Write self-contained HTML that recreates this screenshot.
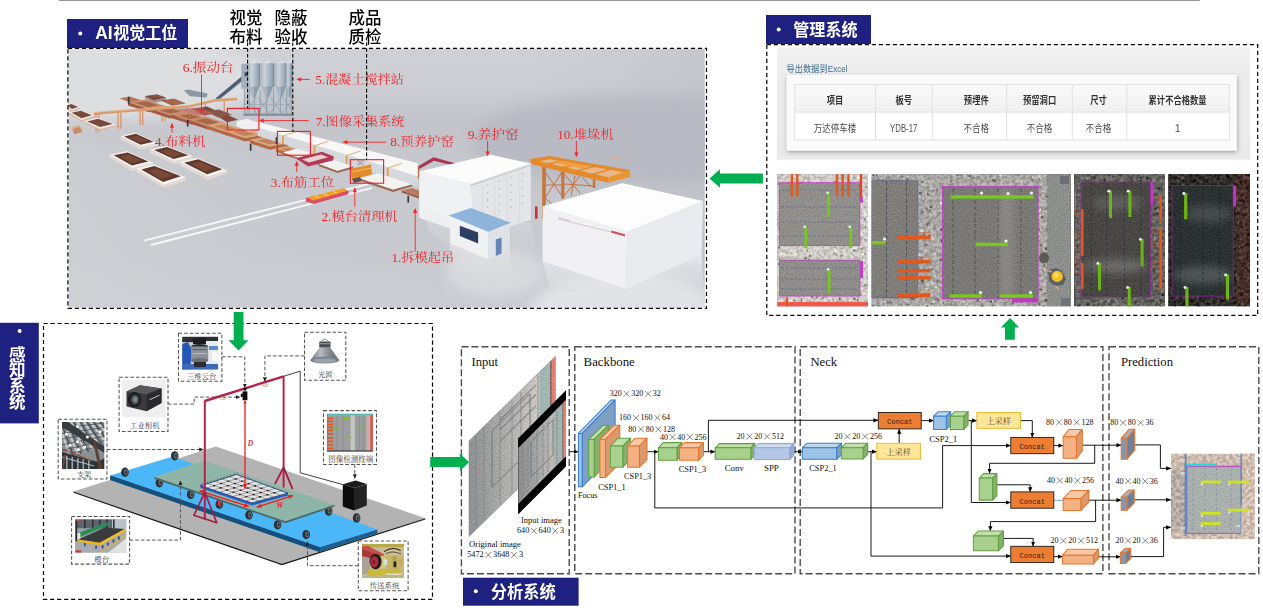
<!DOCTYPE html>
<html lang="zh"><head><meta charset="utf-8"><title>AI visual inspection system overview</title>
<style>
html,body{margin:0;padding:0;background:#fff;}
body{width:1263px;height:611px;overflow:hidden;font-family:"Liberation Sans",sans-serif;}
svg{display:block;}
.ser{font-family:"Liberation Serif",serif;}
.san{font-family:"Liberation Sans",sans-serif;}
.mono{font-family:"Liberation Mono",monospace;}
.cser{font-family:"Liberation Serif","Noto Serif CJK SC",serif;}
.csan{font-family:"Liberation Sans","Noto Sans CJK SC",sans-serif;}
</style></head><body>
<svg width="1263" height="611" viewBox="0 0 1263 611">
<defs>
<clipPath id="cf"><rect x="68.4" y="48.8" width="636.4" height="259.0"/></clipPath>
<linearGradient id="fbg" x1="0" y1="0" x2="0" y2="1"><stop offset="0" stop-color="#cfd0d5"/><stop offset="0.14" stop-color="#cdced3"/><stop offset="0.28" stop-color="#c3c4cb"/><stop offset="0.45" stop-color="#c6c8cd"/><stop offset="0.8" stop-color="#c9cacf"/><stop offset="1" stop-color="#cccdd2"/></linearGradient>
<linearGradient id="fbg2" x1="0" y1="0" x2="1" y2="0"><stop offset="0" stop-color="#e4e5e7" stop-opacity="0.18"/><stop offset="0.3" stop-color="#dcdde0" stop-opacity="0.05"/><stop offset="0.7" stop-color="#c8c9cf" stop-opacity="0.0"/><stop offset="1" stop-color="#bbbcc5" stop-opacity="0.45"/></linearGradient>
<linearGradient id="refl" x1="0" y1="0" x2="0" y2="1"><stop offset="0" stop-color="#eceef0" stop-opacity="0.85"/><stop offset="1" stop-color="#dfe0e4" stop-opacity="0"/></linearGradient>
<linearGradient id="silo" x1="0" y1="0" x2="1" y2="0"><stop offset="0" stop-color="#aab6c1"/><stop offset="0.3" stop-color="#c9d3dc"/><stop offset="0.65" stop-color="#abb8c4"/><stop offset="1" stop-color="#8b99a7"/></linearGradient>
<filter id="fblur" x="-2%" y="-2%" width="104%" height="104%"><feGaussianBlur stdDeviation="0.55"/></filter>
<filter id="fblur2" x="-40%" y="-40%" width="180%" height="180%"><feGaussianBlur stdDeviation="7"/></filter>
</defs>
<g clip-path="url(#cf)">
<rect x="68.40" y="48.80" width="636.40" height="259.00" fill="url(#fbg)" />
<rect x="68.40" y="48.80" width="636.40" height="259.00" fill="url(#fbg2)" />
<ellipse cx="625" cy="312" rx="95" ry="40" fill="#e6e7ea" opacity="0.85" filter="url(#fblur2)"/>
<ellipse cx="495" cy="272" rx="50" ry="24" fill="#dfe0e3" opacity="0.7" filter="url(#fblur2)"/>
<ellipse cx="120" cy="78" rx="150" ry="42" fill="#dedfe1" opacity="0.95" filter="url(#fblur2)"/>
<ellipse cx="640" cy="140" rx="170" ry="45" fill="#b7b8c2" opacity="0.85" filter="url(#fblur2)"/>
<g filter="url(#fblur)">
<polyline points="144.0,240.6 305.0,200.2 368.0,184.2" fill="none" stroke="#f6f7f8" stroke-width="1.9" />
<polyline points="151.0,245.0 312.0,203.6 372.0,187.8" fill="none" stroke="#f6f7f8" stroke-width="1.9" />
<polygon points="183.8,90.6 188.0,89.6 207.6,93.6 206.6,97.4 190.0,96.2" fill="#8b98a6" />
<polygon points="215.4,98.4 241.6,76.6 243.4,79.4 218.6,100.2" fill="#4b5b70" />
<polyline points="217.6,100.4 243.4,80.6" fill="none" stroke="#8fa0b4" stroke-width="0.8" />
<rect x="241.30" y="63.80" width="7.20" height="25.00" fill="#a3afba" />
<rect x="244.60" y="72.30" width="2.90" height="4.00" fill="#3e4854" />
<rect x="243.50" y="88.50" width="48.60" height="26.40" fill="#b4bcc5" opacity="0.38"/>
<polyline points="244.6,89.0 244.6,115.4" fill="none" stroke="#8794a2" stroke-width="0.8" />
<polyline points="249.2,89.0 249.2,115.4" fill="none" stroke="#8794a2" stroke-width="0.8" />
<polyline points="254.4,89.0 254.4,115.4" fill="none" stroke="#8794a2" stroke-width="0.8" />
<polyline points="260.2,89.0 260.2,115.4" fill="none" stroke="#8794a2" stroke-width="0.8" />
<polyline points="266.6,89.0 266.6,115.4" fill="none" stroke="#8794a2" stroke-width="0.8" />
<polyline points="273.6,89.0 273.6,115.4" fill="none" stroke="#8794a2" stroke-width="0.8" />
<polyline points="280.4,89.0 280.4,115.4" fill="none" stroke="#8794a2" stroke-width="0.8" />
<polyline points="286.6,89.0 286.6,115.4" fill="none" stroke="#8794a2" stroke-width="0.8" />
<polyline points="291.4,89.0 291.4,115.4" fill="none" stroke="#8794a2" stroke-width="0.8" />
<polyline points="246.0,97.0 256.6,113.0" fill="none" stroke="#8d9aa8" stroke-width="0.7" />
<polyline points="256.6,97.0 246.0,113.0" fill="none" stroke="#8d9aa8" stroke-width="0.7" />
<polyline points="258.2,97.0 268.8,113.0" fill="none" stroke="#8d9aa8" stroke-width="0.7" />
<polyline points="268.8,97.0 258.2,113.0" fill="none" stroke="#8d9aa8" stroke-width="0.7" />
<polyline points="270.4,97.0 281.0,113.0" fill="none" stroke="#8d9aa8" stroke-width="0.7" />
<polyline points="281.0,97.0 270.4,113.0" fill="none" stroke="#8d9aa8" stroke-width="0.7" />
<polyline points="282.6,97.0 293.2,113.0" fill="none" stroke="#8d9aa8" stroke-width="0.7" />
<polyline points="293.2,97.0 282.6,113.0" fill="none" stroke="#8d9aa8" stroke-width="0.7" />
<polyline points="243.5,104.6 292.0,104.6" fill="none" stroke="#95a1ae" stroke-width="0.6" />
<rect x="243.50" y="113.60" width="48.60" height="2.20" fill="#828e9b" />
<polygon points="248.2,86.0 259.6,86.0 255.4,97.2 252.4,97.2" fill="#aab7c3" />
<polygon points="253.9,86.0 259.6,86.0 255.4,97.2 253.9,97.2" fill="#8f9eac" />
<rect x="248.20" y="63.20" width="11.40" height="23.40" fill="url(#silo)" />
<rect x="259.10" y="63.60" width="1.30" height="23.00" fill="#7b8896" />
<polyline points="251.5,62.6 256.5,62.6" fill="none" stroke="#dfe4e9" stroke-width="1.0" />
<polyline points="254.9,59.8 254.9,62.6" fill="none" stroke="#e9edf0" stroke-width="0.8" />
<polygon points="260.8,86.0 273.6,86.0 268.7,97.2 265.7,97.2" fill="#aab7c3" />
<polygon points="267.2,86.0 273.6,86.0 268.7,97.2 267.2,97.2" fill="#8f9eac" />
<rect x="260.80" y="63.20" width="12.80" height="23.40" fill="url(#silo)" />
<rect x="273.10" y="63.60" width="1.30" height="23.00" fill="#7b8896" />
<polyline points="264.8,62.6 269.8,62.6" fill="none" stroke="#dfe4e9" stroke-width="1.0" />
<polyline points="268.2,59.8 268.2,62.6" fill="none" stroke="#e9edf0" stroke-width="0.8" />
<polygon points="275.0,86.0 286.4,86.0 282.2,97.2 279.2,97.2" fill="#aab7c3" />
<polygon points="280.7,86.0 286.4,86.0 282.2,97.2 280.7,97.2" fill="#8f9eac" />
<rect x="275.00" y="63.20" width="11.40" height="23.40" fill="url(#silo)" />
<rect x="285.90" y="63.60" width="1.30" height="23.00" fill="#7b8896" />
<polyline points="278.3,62.6 283.3,62.6" fill="none" stroke="#dfe4e9" stroke-width="1.0" />
<polyline points="281.7,59.8 281.7,62.6" fill="none" stroke="#e9edf0" stroke-width="0.8" />
<polygon points="286.2,86.0 291.8,86.0 290.5,97.2 287.5,97.2" fill="#aab7c3" />
<polygon points="289.0,86.0 291.8,86.0 290.5,97.2 289.0,97.2" fill="#8f9eac" />
<rect x="286.20" y="63.20" width="5.60" height="23.40" fill="url(#silo)" />
<rect x="291.30" y="63.60" width="1.30" height="23.00" fill="#7b8896" />
<polyline points="286.6,62.6 291.6,62.6" fill="none" stroke="#dfe4e9" stroke-width="1.0" />
<polyline points="290.0,59.8 290.0,62.6" fill="none" stroke="#e9edf0" stroke-width="0.8" />
<rect x="95.40" y="114.60" width="1.30" height="17.50" fill="#d39468" />
<rect x="98.20" y="114.40" width="1.30" height="17.50" fill="#d39468" />
<rect x="117.50" y="112.80" width="1.30" height="16.00" fill="#d39468" />
<rect x="120.20" y="112.50" width="1.30" height="16.00" fill="#d39468" />
<rect x="139.50" y="110.60" width="1.30" height="14.50" fill="#d39468" />
<rect x="142.00" y="110.40" width="1.30" height="14.50" fill="#d39468" />
<rect x="161.60" y="108.60" width="1.30" height="13.00" fill="#d39468" />
<rect x="164.40" y="108.20" width="1.30" height="13.00" fill="#d39468" />
<rect x="204.60" y="103.00" width="1.30" height="13.60" fill="#d39468" />
<rect x="223.60" y="100.60" width="1.30" height="14.00" fill="#d39468" />
<polygon points="145.0,96.0 157.0,94.2 166.0,97.6 153.4,100.2" fill="#8a5647" />
<polygon points="119.4,98.2 130.0,96.4 142.0,100.6 131.0,103.0" fill="#b87858" />
<polygon points="192.0,108.8 207.0,106.6 220.0,112.6 204.0,115.6" fill="#7d4c42" />
<polygon points="218.0,116.6 228.0,115.0 238.0,119.8 227.0,122.2" fill="#7d4c42" />
<polygon points="161.0,100.6 174.0,98.6 186.0,103.4 172.0,105.8" fill="#a5684e" />
<polygon points="206.0,111.6 219.0,109.4 232.0,114.8 218.0,117.6" fill="#8a5647" />
<polygon points="145.0,96.0 166.0,97.6 166.0,100.4 153.4,103.0 145.0,98.6" fill="#6d4035" opacity="0.5"/>
<polygon points="170.0,109.5 200.0,107.5 214.0,114.0 186.0,117.0" fill="#b8605a" opacity="0.75"/>
<polygon points="128.0,102.0 148.0,108.6 166.0,106.2 166.0,109.6 148.0,112.0 128.0,105.4" fill="#a45a44" />
<polygon points="128.0,102.0 146.0,99.6 166.0,106.2 148.0,108.6" fill="#c98f6c" />
<polygon points="135.2,102.8 146.4,101.3 158.8,105.4 147.6,106.9" fill="#a8664a" />
<polygon points="150.0,108.6 170.0,115.2 188.0,112.6 188.0,116.0 170.0,118.6 150.0,112.0" fill="#a45a44" />
<polygon points="150.0,108.6 168.0,106.0 188.0,112.6 170.0,115.2" fill="#c98f6c" />
<polygon points="157.2,109.4 168.4,107.7 180.8,111.8 169.6,113.5" fill="#a8664a" />
<polygon points="172.0,114.8 192.0,121.4 209.0,118.8 209.0,122.2 192.0,124.8 172.0,118.2" fill="#a45a44" />
<polygon points="172.0,114.8 189.0,112.2 209.0,118.8 192.0,121.4" fill="#c98f6c" />
<polygon points="179.0,115.6 189.6,113.9 202.0,118.0 191.4,119.7" fill="#a8664a" />
<polygon points="188.0,119.6 208.0,126.2 226.0,123.2 226.0,126.6 208.0,129.6 188.0,123.0" fill="#a45a44" />
<polygon points="188.0,119.6 206.0,116.6 226.0,123.2 208.0,126.2" fill="#c98f6c" />
<polygon points="195.2,120.3 206.4,118.4 218.8,122.5 207.6,124.4" fill="#a8664a" />
<polygon points="206.6,125.4 226.6,132.0 242.0,129.2 242.0,132.6 226.6,135.4 206.6,128.8" fill="#b1694a" />
<polygon points="206.6,125.4 222.0,122.6 242.0,129.2 226.6,132.0" fill="#dba677" />
<polygon points="213.3,126.1 222.9,124.4 235.3,128.5 225.7,130.2" fill="#c08560" />
<polygon points="225.0,131.4 245.0,138.0 263.0,134.8 263.0,138.2 245.0,141.4 225.0,134.8" fill="#b1694a" />
<polygon points="225.0,131.4 243.0,128.2 263.0,134.8 245.0,138.0" fill="#dba677" />
<polygon points="232.2,132.0 243.4,130.1 255.8,134.2 244.6,136.1" fill="#c08560" />
<polygon points="249.8,139.8 269.8,146.4 288.0,143.0 288.0,146.4 269.8,149.8 249.8,143.2" fill="#b1694a" />
<polygon points="249.8,139.8 268.0,136.4 288.0,143.0 269.8,146.4" fill="#dba677" />
<polygon points="257.1,140.4 268.3,138.3 280.7,142.4 269.5,144.5" fill="#c08560" />
<polygon points="276.0,148.4 291.0,153.3 302.0,150.9 302.0,154.3 291.0,156.8 276.0,151.8" fill="#b1694a" />
<polygon points="276.0,148.4 287.0,146.0 302.0,150.9 291.0,153.3" fill="#dba677" />
<polygon points="280.9,148.9 287.8,147.4 297.1,150.5 290.2,152.0" fill="#c08560" />
<polygon points="94.0,112.4 110.0,111.0 189.2,105.2 214.5,99.2 237.0,97.8 237.0,100.2 214.5,101.8 189.2,107.8 110.0,113.6 94.0,115.2" fill="#d99a6e" />
<polyline points="94.0,112.6 110.0,111.2 189.2,105.4 214.5,99.4 237.0,98.0" fill="none" stroke="#e8b48c" stroke-width="0.8" />
<polygon points="66.0,105.4 72.0,110.4 79.6,107.4 79.6,109.2 72.0,112.2 66.0,107.2" fill="#d9b9a3" />
<polygon points="66.0,105.4 71.0,103.4 79.6,107.4 72.0,110.4" fill="#efe9e4" />
<polygon points="67.4,105.4 71.3,103.9 78.0,106.9 72.0,109.1" fill="#7a4a3e" />
<polygon points="69.0,112.6 81.4,120.0 94.6,115.8 94.6,117.6 81.4,121.8 69.0,114.4" fill="#d9b9a3" />
<polygon points="69.0,112.6 80.7,109.8 94.6,115.8 81.4,120.0" fill="#efe9e4" />
<polygon points="71.7,112.8 80.9,110.7 91.7,115.2 81.4,118.3" fill="#7a4a3e" />
<polygon points="83.7,121.3 100.4,128.9 116.3,124.8 116.3,126.6 100.4,130.7 83.7,123.1" fill="#d9b9a3" />
<polygon points="83.7,121.3 97.7,117.6 116.3,124.8 100.4,128.9" fill="#efe9e4" />
<polygon points="87.2,121.5 98.1,118.7 112.6,124.1 100.2,127.1" fill="#7a4a3e" />
<polygon points="72.0,127.6 79.6,125.6 82.4,131.8 74.4,134.2" fill="#c98a66" />
<polygon points="72.0,127.6 79.6,125.6 80.2,127.2 72.6,129.2" fill="#dba884" />
<polygon points="120.5,136.3 141.1,146.6 157.3,142.9 157.3,146.1 141.1,149.8 120.5,139.5" fill="#e2d9d2" />
<polygon points="120.5,136.3 135.2,132.6 157.3,142.9 141.1,146.6" fill="#f5f2ef" />
<polygon points="124.1,136.6 135.9,133.7 153.5,141.8 140.6,144.7" fill="#60392e" />
<polygon points="129.5,137.5 136.9,135.7 147.9,140.8 139.8,142.7" fill="#7a4a35" />
<polygon points="149.9,149.6 174.2,161.3 192.7,156.2 192.7,159.4 174.2,164.5 149.9,152.8" fill="#e2d9d2" />
<polygon points="149.9,149.6 166.1,145.9 192.7,156.2 174.2,161.3" fill="#f5f2ef" />
<polygon points="154.1,150.0 167.0,147.1 188.3,155.2 173.5,159.1" fill="#60392e" />
<polygon points="160.3,151.0 168.4,149.2 181.7,154.3 172.5,156.9" fill="#7a4a35" />
<polygon points="109.4,154.7 132.3,168.0 152.9,162.8 152.9,166.0 132.3,171.2 109.4,157.9" fill="#e2d9d2" />
<polygon points="109.4,154.7 127.1,151.0 152.9,162.8 132.3,168.0" fill="#f5f2ef" />
<polygon points="113.6,155.3 127.8,152.4 148.4,161.6 131.9,165.6" fill="#60392e" />
<polygon points="119.9,156.5 128.8,154.7 141.7,160.6 131.4,163.2" fill="#7a4a35" />
<polygon points="179.4,162.1 208.1,176.8 227.0,170.4 227.0,173.6 208.1,180.0 179.4,165.3" fill="#e2d9d2" />
<polygon points="179.4,162.1 197.1,157.7 227.0,170.4 208.1,176.8" fill="#f5f2ef" />
<polygon points="184.1,162.7 198.3,159.3 222.2,169.2 207.1,174.2" fill="#60392e" />
<polygon points="191.2,164.0 200.0,161.8 214.9,168.2 205.5,171.4" fill="#7a4a35" />
<polygon points="136.7,168.7 163.9,184.9 186.0,177.5 186.0,180.7 163.9,188.1 136.7,171.9" fill="#e2d9d2" />
<polygon points="136.7,168.7 152.9,164.3 186.0,177.5 163.9,184.9" fill="#f5f2ef" />
<polygon points="141.3,169.4 154.3,166.0 180.8,176.3 163.1,182.1" fill="#60392e" />
<polygon points="148.3,170.9 156.4,168.7 172.9,175.3 161.9,179.0" fill="#7a4a35" />
<polygon points="258.0,127.6 418.0,176.4 418.0,186.4 258.0,136.0" fill="#d5d8dc" />
<polygon points="258.0,122.0 418.0,163.2 418.0,176.4 258.0,127.6" fill="#f7f7f7" />
<polygon points="236.6,121.6 247.0,118.8 259.4,123.0 259.4,128.6 248.0,131.4 236.6,126.0" fill="#f1f0ee" />
<rect x="282.00" y="135.60" width="1.90" height="8.80" fill="#e0a24e" />
<polyline points="283.6,135.8 297.0,131.4" fill="none" stroke="#e6b068" stroke-width="1.0" />
<rect x="313.50" y="145.40" width="1.90" height="8.80" fill="#e0a24e" />
<polyline points="315.1,145.6 328.5,141.2" fill="none" stroke="#e6b068" stroke-width="1.0" />
<rect x="345.70" y="155.20" width="1.90" height="8.80" fill="#e0a24e" />
<polyline points="347.3,155.4 360.7,151.0" fill="none" stroke="#e6b068" stroke-width="1.0" />
<rect x="386.90" y="167.60" width="1.90" height="8.80" fill="#e0a24e" />
<polyline points="388.5,167.8 401.9,163.4" fill="none" stroke="#e6b068" stroke-width="1.0" />
<polygon points="283.0,152.4 298.0,157.6 313.0,153.6 313.0,155.6 298.0,159.6 283.0,154.4" fill="#b1694a" />
<polygon points="283.0,152.4 297.0,148.6 313.0,153.6 298.0,157.6" fill="#f4f3f1" />
<polygon points="318.6,163.8 337.4,170.8 353.0,166.2 353.0,168.4 337.4,173.0 318.6,166.0" fill="#9c6a58" />
<polygon points="318.6,163.8 333.6,159.6 353.0,166.2 337.4,170.8" fill="#f3f2f0" />
<polygon points="359.6,178.2 393.0,189.6 412.0,184.2 412.0,186.6 393.0,192.0 359.6,180.6" fill="#9c6a58" />
<polygon points="359.6,178.2 378.0,173.2 412.0,184.2 393.0,189.6" fill="#f3f2f0" />
<polygon points="296.0,158.6 322.0,151.8 334.0,156.6 333.0,160.6 308.0,166.6" fill="#b23a58" />
<polygon points="302.0,159.4 321.0,154.4 328.0,157.2 309.0,162.6" fill="#e7d3cf" />
<polygon points="351.0,168.8 371.0,164.6 372.0,174.6 352.0,179.4" fill="#e58b2a" />
<polyline points="351.4,172.2 371.6,167.8" fill="none" stroke="#f3c06a" stroke-width="1" />
<rect x="356.60" y="159.80" width="8.60" height="5.60" fill="#c9cdd3" />
<polyline points="358.0,160.0 363.0,165.4" fill="none" stroke="#6b7078" stroke-width="0.6" />
<polyline points="363.0,160.0 358.0,165.4" fill="none" stroke="#6b7078" stroke-width="0.6" />
<polygon points="352.0,179.0 360.0,177.0 362.0,181.0 354.0,183.0" fill="#59545a" />
<polygon points="305.4,198.2 343.6,188.6 349.0,191.4 348.0,194.4 314.0,204.0 306.0,201.6" fill="#d9506a" />
<polygon points="307.6,197.4 343.0,188.4 347.4,190.8 313.4,200.6" fill="#f3a21f" />
<polyline points="314.7,195.6 319.7,198.2" fill="none" stroke="#f7c44e" stroke-width="1.5" />
<polyline points="323.5,193.3 328.5,195.9" fill="none" stroke="#f7c44e" stroke-width="1.5" />
<polyline points="332.4,191.1 337.4,193.7" fill="none" stroke="#f7c44e" stroke-width="1.5" />
<polygon points="401.6,190.6 419.0,196.4 419.0,190.4 419.0,192.4 419.0,198.4 401.6,192.6" fill="#8e5a46" />
<polygon points="401.6,190.6 412.0,188.0 419.0,190.4 419.0,196.4" fill="#b77a5c" />
<polygon points="417.6,166.4 433.6,157.2 456.0,163.4 455.0,166.0 434.0,160.8 419.4,169.0" fill="#a93652" />
<rect x="417.80" y="166.60" width="1.50" height="12.00" fill="#c06a4a" />
<rect x="127.80" y="96.80" width="1.70" height="6.80" fill="#33343a" />
<rect x="186.80" y="119.80" width="1.70" height="6.80" fill="#33343a" />
<rect x="249.80" y="144.00" width="1.70" height="6.80" fill="#33343a" />
<rect x="407.40" y="195.80" width="1.70" height="6.80" fill="#33343a" />
<rect x="275.60" y="137.20" width="1.70" height="6.80" fill="#33343a" />
<polygon points="419.2,171.6 470.4,183.9 477.0,238.0 419.2,217.7" fill="#f0f1f3" />
<polygon points="470.4,183.9 530.8,163.4 530.8,219.7 477.0,238.0" fill="#e4e5e9" />
<polygon points="419.2,171.6 490.8,154.8 530.8,163.4 470.4,183.9" fill="#fcfcfc" />
<polyline points="471.0,185.4 530.4,165.2" fill="none" stroke="#c5c8ce" stroke-width="1.2" />
<rect x="487.00" y="184.52" width="1.30" height="1.30" fill="#b4b7bf" />
<rect x="498.60" y="180.69" width="1.30" height="1.30" fill="#b4b7bf" />
<rect x="510.20" y="176.87" width="1.30" height="1.30" fill="#b4b7bf" />
<rect x="521.80" y="173.04" width="1.30" height="1.30" fill="#b4b7bf" />
<rect x="487.00" y="191.92" width="1.30" height="1.30" fill="#b4b7bf" />
<rect x="498.60" y="188.09" width="1.30" height="1.30" fill="#b4b7bf" />
<rect x="510.20" y="184.27" width="1.30" height="1.30" fill="#b4b7bf" />
<rect x="521.80" y="180.44" width="1.30" height="1.30" fill="#b4b7bf" />
<rect x="487.00" y="199.32" width="1.30" height="1.30" fill="#b4b7bf" />
<rect x="498.60" y="195.49" width="1.30" height="1.30" fill="#b4b7bf" />
<rect x="510.20" y="191.67" width="1.30" height="1.30" fill="#b4b7bf" />
<rect x="521.80" y="187.84" width="1.30" height="1.30" fill="#b4b7bf" />
<rect x="487.00" y="206.72" width="1.30" height="1.30" fill="#b4b7bf" />
<rect x="498.60" y="202.89" width="1.30" height="1.30" fill="#b4b7bf" />
<rect x="510.20" y="199.07" width="1.30" height="1.30" fill="#b4b7bf" />
<rect x="521.80" y="195.24" width="1.30" height="1.30" fill="#b4b7bf" />
<rect x="487.00" y="214.12" width="1.30" height="1.30" fill="#b4b7bf" />
<rect x="498.60" y="210.29" width="1.30" height="1.30" fill="#b4b7bf" />
<rect x="510.20" y="206.47" width="1.30" height="1.30" fill="#b4b7bf" />
<rect x="521.80" y="202.64" width="1.30" height="1.30" fill="#b4b7bf" />
<polyline points="482.5,181.5 482.8,233.2" fill="none" stroke="#d3d5da" stroke-width="0.7" />
<polyline points="494.6,177.4 495.1,229.5" fill="none" stroke="#d3d5da" stroke-width="0.7" />
<polyline points="506.7,173.3 507.5,225.7" fill="none" stroke="#d3d5da" stroke-width="0.7" />
<polyline points="518.8,169.2 519.8,222.0" fill="none" stroke="#d3d5da" stroke-width="0.7" />
<rect x="542.20" y="165.00" width="3.60" height="54.00" fill="#c8763a" />
<rect x="561.20" y="170.00" width="3.20" height="28.60" fill="#c8763a" />
<rect x="592.80" y="178.00" width="2.60" height="10.00" fill="#c8763a" />
<polyline points="545.0,172.0 562.0,196.0" fill="none" stroke="#c07040" stroke-width="1.0" />
<polyline points="562.0,172.0 545.0,198.0" fill="none" stroke="#c07040" stroke-width="1.0" />
<polyline points="545.0,198.0 561.0,212.0" fill="none" stroke="#c07040" stroke-width="1.0" />
<polyline points="564.0,174.0 580.0,193.0" fill="none" stroke="#c07040" stroke-width="1.0" />
<polyline points="580.0,176.0 564.0,196.0" fill="none" stroke="#c07040" stroke-width="1.0" />
<polyline points="564.0,184.0 594.0,186.0" fill="none" stroke="#c07040" stroke-width="1.0" />
<polyline points="545.0,185.0 562.0,185.0" fill="none" stroke="#c07040" stroke-width="1.0" />
<polyline points="575.0,176.0 571.0,196.0" fill="none" stroke="#b96a3c" stroke-width="0.9" />
<polyline points="583.0,178.0 591.0,187.0" fill="none" stroke="#b96a3c" stroke-width="0.9" />
<polygon points="531.0,161.0 549.5,157.6 628.6,171.4 608.4,178.6" fill="#eeb67e" opacity="0.85"/>
<polygon points="549.5,156.0 629.7,170.0 629.7,173.2 549.5,159.2" fill="#e58a2c" />
<polygon points="529.6,159.0 608.4,177.2 608.4,182.8 531.8,164.3" fill="#e58a2c" />
<polygon points="608.4,177.2 629.7,170.0 630.5,176.8 608.4,182.8" fill="#e9962f" />
<polygon points="529.6,159.0 549.5,156.0 549.5,159.2 531.8,162.4" fill="#e58a2c" />
<polyline points="546.9,164.0 567.1,160.1" fill="none" stroke="#e08a34" stroke-width="1.6" />
<polyline points="562.7,167.6 583.2,162.9" fill="none" stroke="#e08a34" stroke-width="1.6" />
<polyline points="576.9,170.8 597.6,165.4" fill="none" stroke="#e08a34" stroke-width="1.6" />
<polyline points="592.6,174.4 613.7,168.2" fill="none" stroke="#e08a34" stroke-width="1.6" />
<polygon points="560.0,160.6 590.0,165.8 584.0,168.6 556.0,163.0" fill="#f0a040" />
<rect x="535.00" y="206.40" width="2.60" height="12.40" fill="#c5323c" />
<polygon points="603.0,157.6 616.0,156.8 628.0,158.2 615.0,159.2" fill="#dcb48a" opacity="0.7"/>
<polygon points="542.6,206.6 627.3,231.8 626.2,289.1 542.6,261.6" fill="#f1f1f3" />
<polygon points="627.3,231.8 702.9,200.9 701.7,254.7 626.2,289.1" fill="#eaebef" />
<polygon points="542.6,206.6 622.7,183.3 702.9,200.9 627.3,231.8" fill="#fdfdfd" />
<polygon points="542.6,206.6 622.7,183.3 624.0,185.0 545.6,208.0" fill="#ffffff" />
<polyline points="558.6,219.2 625.0,235.3" fill="none" stroke="#cdb3b6" stroke-width="0.7" />
<polygon points="611.3,230.6 625.0,234.2 625.0,236.4 611.3,232.8" fill="#c9525e" />
<polyline points="558.0,217.6 570.0,220.8" fill="none" stroke="#a9adb5" stroke-width="0.7" />
<polygon points="542.6,261.6 626.2,289.1 701.7,254.7 704.8,307.8 556.0,307.8" fill="url(#refl)" />
<polygon points="419.2,203.0 472.2,228.5 530.4,222.0 540.0,262.0 470.0,262.0 430.0,232.0" fill="url(#refl)" opacity="0.55"/>
<polygon points="450.1,216.9 488.4,232.2 488.4,259.6 450.1,243.4" fill="#eff1f3" />
<polygon points="488.4,232.2 509.9,223.7 509.9,249.3 488.4,259.6" fill="#dfe3e9" />
<polygon points="448.6,215.4 470.7,208.1 510.9,222.8 488.4,231.8" fill="#8eb4dc" />
<polygon points="459.8,225.8 478.1,232.5 478.1,243.4 459.8,236.1" fill="#2d3e62" />
<polygon points="495.8,239.6 501.6,237.5 501.6,253.7 495.8,256.1" fill="#6487b9" />
<polygon points="450.1,243.4 488.4,259.6 509.9,249.3 509.9,268.0 488.4,282.0 450.1,262.0" fill="url(#refl)" opacity="0.7"/>
</g>
<defs><marker id="ahf" viewBox="0 0 10 10" refX="9" refY="5" markerWidth="5.6" markerHeight="4.6" markerUnits="userSpaceOnUse" orient="auto"><path d="M0 0.3 L10 5 L0 9.7 z" fill="#f0262a"/></marker></defs>
<rect x="227.40" y="108.40" width="31.50" height="21.60" fill="none" stroke="#ee1c24" stroke-width="1.1" />
<rect x="277.40" y="131.40" width="33.00" height="23.80" fill="none" stroke="#ee1c24" stroke-width="1.1" />
<rect x="350.30" y="159.70" width="33.30" height="23.50" fill="none" stroke="#ee1c24" stroke-width="1.1" />
<text x="182.7" y="72" class="cser" font-size="12.4" fill="#f0262a" textLength="50.9" lengthAdjust="spacingAndGlyphs">6.振动台</text>
<text x="315.3" y="84.4" class="cser" font-size="12.4" fill="#f0262a" textLength="88.7" lengthAdjust="spacingAndGlyphs">5.混凝土搅拌站</text>
<text x="315.75" y="125.8" class="cser" font-size="12.4" fill="#f0262a" textLength="88.7" lengthAdjust="spacingAndGlyphs">7.图像采集系统</text>
<text x="390.3" y="146" class="cser" font-size="12.4" fill="#f0262a" textLength="63.5" lengthAdjust="spacingAndGlyphs">8.预养护窑</text>
<text x="467.68" y="139.2" class="cser" font-size="12.4" fill="#f0262a" textLength="50.9" lengthAdjust="spacingAndGlyphs">9.养护窑</text>
<text x="557.2" y="139.2" class="cser" font-size="12.4" fill="#f0262a" textLength="56.5" lengthAdjust="spacingAndGlyphs">10.堆垛机</text>
<text x="154.71" y="145.8" class="cser" font-size="12.4" fill="#f0262a" textLength="50.9" lengthAdjust="spacingAndGlyphs">4.布料机</text>
<text x="270.71" y="187" class="cser" font-size="12.4" fill="#f0262a" textLength="63.5" lengthAdjust="spacingAndGlyphs">3.布筋工位</text>
<text x="321.5" y="220.8" class="cser" font-size="12.4" fill="#f0262a" textLength="76.1" lengthAdjust="spacingAndGlyphs">2.模台清理机</text>
<text x="391.4" y="262.2" class="cser" font-size="12.4" fill="#f0262a" textLength="62.8" lengthAdjust="spacingAndGlyphs">1.拆模起吊</text>
<polyline points="201.5,74.8 201.5,113.6" fill="none" stroke="#f0262a" stroke-width="0.9" marker-end="url(#ahf)"/>
<polyline points="309.8,79.4 297.0,79.4" fill="none" stroke="#f0262a" stroke-width="0.9" marker-end="url(#ahf)"/>
<polyline points="308.9,120.6 259.6,120.6" fill="none" stroke="#f0262a" stroke-width="0.9" marker-end="url(#ahf)"/>
<polyline points="386.3,142.2 343.2,142.2" fill="none" stroke="#f0262a" stroke-width="0.9" marker-end="url(#ahf)"/>
<polyline points="487.6,141.0 487.6,155.6" fill="none" stroke="#f0262a" stroke-width="0.9" marker-end="url(#ahf)"/>
<polyline points="576.4,141.0 576.4,156.6" fill="none" stroke="#f0262a" stroke-width="0.9" marker-end="url(#ahf)"/>
<polyline points="172.0,133.0 172.0,123.6" fill="none" stroke="#f0262a" stroke-width="0.9" marker-end="url(#ahf)"/>
<polyline points="296.7,172.0 296.7,161.6" fill="none" stroke="#f0262a" stroke-width="0.9" marker-end="url(#ahf)"/>
<polyline points="354.8,206.6 354.8,188.0" fill="none" stroke="#f0262a" stroke-width="0.9" marker-end="url(#ahf)"/>
<polyline points="415.2,251.6 415.2,208.8" fill="none" stroke="#f0262a" stroke-width="0.9" marker-end="url(#ahf)"/>
</g>
<polyline points="247.6,42.4 247.6,108.2" fill="none" stroke="#000" stroke-width="1.1" stroke-dasharray="3.6 2.2"/>
<polyline points="292.8,42.4 292.8,131.2" fill="none" stroke="#000" stroke-width="1.1" stroke-dasharray="3.6 2.2"/>
<polyline points="366.6,42.4 366.6,159.5" fill="none" stroke="#000" stroke-width="1.1" stroke-dasharray="3.6 2.2"/>
<text x="229.4" y="23.6" class="csan" font-size="16.5" font-weight="500" fill="#000" textLength="33" lengthAdjust="spacingAndGlyphs">视觉</text>
<text x="229.4" y="42.8" class="csan" font-size="16.5" font-weight="500" fill="#000" textLength="33" lengthAdjust="spacingAndGlyphs">布料</text>
<text x="274.6" y="23.6" class="csan" font-size="16.5" font-weight="500" fill="#000" textLength="33" lengthAdjust="spacingAndGlyphs">隐蔽</text>
<text x="274.6" y="42.8" class="csan" font-size="16.5" font-weight="500" fill="#000" textLength="33" lengthAdjust="spacingAndGlyphs">验收</text>
<text x="348.4" y="23.6" class="csan" font-size="16.5" font-weight="500" fill="#000" textLength="33" lengthAdjust="spacingAndGlyphs">成品</text>
<text x="348.4" y="42.8" class="csan" font-size="16.5" font-weight="500" fill="#000" textLength="33" lengthAdjust="spacingAndGlyphs">质检</text>
<defs>
<filter id="mott" x="0" y="0" width="100%" height="100%" color-interpolation-filters="sRGB"><feTurbulence type="fractalNoise" baseFrequency="0.3" numOctaves="3" seed="11"/><feColorMatrix type="matrix" values="1 0 0 0 0  1 0 0 0 0  1 0 0 0 0  0 0 0 0 1" result="n"/><feComposite in="SourceGraphic" in2="n" operator="arithmetic" k1="0" k2="1" k3="0.42" k4="-0.21" result="a"/><feComposite in="a" in2="SourceGraphic" operator="in"/><feGaussianBlur stdDeviation="0.45"/></filter>
<filter id="fine" x="0" y="0" width="100%" height="100%" color-interpolation-filters="sRGB"><feTurbulence type="fractalNoise" baseFrequency="0.85" numOctaves="2" seed="7"/><feColorMatrix type="matrix" values="1 0 0 0 0  1 0 0 0 0  1 0 0 0 0  0 0 0 0 1" result="n"/><feComposite in="SourceGraphic" in2="n" operator="arithmetic" k1="0" k2="1" k3="0.22" k4="-0.11" result="a"/><feComposite in="a" in2="SourceGraphic" operator="in"/><feGaussianBlur stdDeviation="0.35"/></filter>
<filter id="band" x="-30%" y="-60%" width="160%" height="220%"><feGaussianBlur stdDeviation="4"/></filter>
<filter id="soft" x="-5%" y="-5%" width="110%" height="110%"><feGaussianBlur stdDeviation="0.45"/></filter>
<filter id="cardsh" x="-5%" y="-10%" width="110%" height="130%"><feDropShadow dx="0.5" dy="1.5" stdDeviation="2.2" flood-color="#000" flood-opacity="0.33"/></filter>
<linearGradient id="thg" x1="0" y1="0" x2="0" y2="1"><stop offset="0" stop-color="#fafafa"/><stop offset="1" stop-color="#f0f0f0"/></linearGradient>
<linearGradient id="pang" x1="0" y1="0" x2="0" y2="1"><stop offset="0" stop-color="#f1f1f1"/><stop offset="0.25" stop-color="#ececec"/><stop offset="1" stop-color="#eaeaea"/></linearGradient>
</defs>
<rect x="777.00" y="47.20" width="473.00" height="112.40" fill="url(#pang)" />
<text x="786.6" y="72.2" class="csan" font-size="9.6" fill="#3f6e90" textLength="41" lengthAdjust="spacingAndGlyphs">导出数据到</text>
<text x="827.8" y="72.2" class="san" font-size="9.6" fill="#3f6e90" textLength="19.6" lengthAdjust="spacingAndGlyphs">Excel</text>
<rect x="786.60" y="74.90" width="450.20" height="75.70" fill="#fbfbfb" filter="url(#cardsh)"/>
<rect x="794.70" y="84.50" width="434.70" height="27.60" fill="url(#thg)" />
<rect x="794.70" y="112.10" width="434.70" height="27.90" fill="#fff" />
<polyline points="794.7,84.5 794.7,140.0" fill="none" stroke="#e1e1e1" stroke-width="1" />
<polyline points="875.5,84.5 875.5,140.0" fill="none" stroke="#e1e1e1" stroke-width="1" />
<polyline points="932.3,84.5 932.3,140.0" fill="none" stroke="#e1e1e1" stroke-width="1" />
<polyline points="1006.6,84.5 1006.6,140.0" fill="none" stroke="#e1e1e1" stroke-width="1" />
<polyline points="1072.3,84.5 1072.3,140.0" fill="none" stroke="#e1e1e1" stroke-width="1" />
<polyline points="1126.8,84.5 1126.8,140.0" fill="none" stroke="#e1e1e1" stroke-width="1" />
<polyline points="1229.4,84.5 1229.4,140.0" fill="none" stroke="#e1e1e1" stroke-width="1" />
<polyline points="794.7,84.5 1229.4,84.5" fill="none" stroke="#e1e1e1" stroke-width="1" />
<polyline points="794.7,112.1 1229.4,112.1" fill="none" stroke="#e1e1e1" stroke-width="1" />
<polyline points="794.7,140.0 1229.4,140.0" fill="none" stroke="#e1e1e1" stroke-width="1" />
<text x="826.8" y="103.6" class="csan" font-size="9.8" font-weight="bold" fill="#333" textLength="16.6" lengthAdjust="spacingAndGlyphs">项目</text>
<text x="895.4" y="103.6" class="csan" font-size="9.8" font-weight="bold" fill="#333" textLength="16.6" lengthAdjust="spacingAndGlyphs">板号</text>
<text x="963.85" y="103.6" class="csan" font-size="9.8" font-weight="bold" fill="#333" textLength="24.9" lengthAdjust="spacingAndGlyphs">预埋件</text>
<text x="1023" y="103.6" class="csan" font-size="9.8" font-weight="bold" fill="#333" textLength="33.2" lengthAdjust="spacingAndGlyphs">预留洞口</text>
<text x="1090.3" y="103.6" class="csan" font-size="9.8" font-weight="bold" fill="#333" textLength="16.6" lengthAdjust="spacingAndGlyphs">尺寸</text>
<text x="1148.55" y="103.6" class="csan" font-size="9.8" font-weight="bold" fill="#333" textLength="58.1" lengthAdjust="spacingAndGlyphs">累计不合格数量</text>
<text x="813.85" y="131.8" class="csan" font-size="9.8" fill="#4d4d4d" textLength="42.5" lengthAdjust="spacingAndGlyphs">万达停车楼</text>
<text x="903.7" y="131.7" class="san" font-size="10" fill="#4d4d4d" text-anchor="middle" textLength="27.2" lengthAdjust="spacingAndGlyphs">YDB-17</text>
<text x="963.55" y="131.8" class="csan" font-size="9.8" fill="#4d4d4d" textLength="25.5" lengthAdjust="spacingAndGlyphs">不合格</text>
<text x="1026.85" y="131.8" class="csan" font-size="9.8" fill="#4d4d4d" textLength="25.5" lengthAdjust="spacingAndGlyphs">不合格</text>
<text x="1085.85" y="131.8" class="csan" font-size="9.8" fill="#4d4d4d" textLength="25.5" lengthAdjust="spacingAndGlyphs">不合格</text>
<text x="1177.6" y="132" class="san" font-size="10.6" fill="#555" text-anchor="middle">1</text>
<clipPath id="cp1"><rect x="777.1" y="174.1" width="90.9" height="132.5"/></clipPath>
<g clip-path="url(#cp1)"><g filter="url(#mott)">
<rect x="777.10" y="174.10" width="90.90" height="132.50" fill="#cfcbc6" />
<rect x="833.7" y="180.7" width="2.1" height="2.3" fill="#8a8782"/><rect x="853.5" y="181.0" width="1.2" height="0.9" fill="#efece8"/><rect x="787.4" y="178.3" width="1.2" height="1.7" fill="#efece8"/><rect x="778.3" y="176.0" width="1.2" height="2.3" fill="#b7b3ad"/><rect x="791.6" y="181.2" width="1.0" height="1.8" fill="#efece8"/><rect x="789.1" y="182.8" width="0.8" height="2.0" fill="#efece8"/><rect x="856.4" y="176.7" width="2.3" height="1.7" fill="#efece8"/><rect x="793.6" y="182.7" width="1.1" height="2.3" fill="#b7b3ad"/><rect x="804.3" y="177.3" width="1.1" height="1.0" fill="#8a8782"/><rect x="807.3" y="181.4" width="1.7" height="1.8" fill="#6d6a66"/><rect x="783.1" y="177.3" width="1.3" height="1.9" fill="#efece8"/><rect x="820.8" y="180.4" width="0.9" height="2.4" fill="#8a8782"/><rect x="863.4" y="177.3" width="1.4" height="1.7" fill="#b7b3ad"/><rect x="810.4" y="179.2" width="0.8" height="0.9" fill="#efece8"/><rect x="833.8" y="182.6" width="1.0" height="1.2" fill="#b7b3ad"/><rect x="808.4" y="177.3" width="1.6" height="2.0" fill="#8a8782"/><rect x="830.7" y="181.1" width="1.4" height="1.3" fill="#b7b3ad"/><rect x="863.1" y="174.9" width="1.3" height="1.8" fill="#efece8"/>
<rect x="808.0" y="258.9" width="1.7" height="1.3" fill="#7d7a76"/><rect x="804.9" y="257.2" width="1.8" height="2.0" fill="#7d7a76"/><rect x="867.7" y="248.3" width="0.9" height="2.4" fill="#e4e0da"/><rect x="780.0" y="256.4" width="1.4" height="1.2" fill="#e4e0da"/><rect x="790.3" y="259.7" width="1.8" height="2.1" fill="#7d7a76"/><rect x="853.3" y="247.8" width="2.0" height="2.3" fill="#e4e0da"/><rect x="786.8" y="252.1" width="1.0" height="2.2" fill="#7d7a76"/><rect x="789.9" y="258.9" width="1.8" height="1.1" fill="#e4e0da"/><rect x="864.4" y="255.6" width="1.3" height="1.2" fill="#e4e0da"/><rect x="813.8" y="248.1" width="1.4" height="2.4" fill="#f1eeea"/><rect x="834.1" y="253.0" width="1.3" height="0.9" fill="#7d7a76"/><rect x="823.9" y="253.7" width="1.6" height="0.9" fill="#7d7a76"/><rect x="840.2" y="255.3" width="2.0" height="1.4" fill="#7d7a76"/><rect x="853.0" y="249.7" width="2.4" height="1.9" fill="#7d7a76"/><rect x="836.2" y="254.1" width="0.8" height="1.7" fill="#7d7a76"/><rect x="806.7" y="249.8" width="1.3" height="1.6" fill="#7d7a76"/><rect x="808.7" y="255.0" width="2.0" height="2.1" fill="#7d7a76"/><rect x="860.9" y="248.4" width="2.2" height="1.5" fill="#7d7a76"/><rect x="864.0" y="253.3" width="1.6" height="1.1" fill="#7d7a76"/><rect x="862.3" y="252.7" width="1.9" height="2.0" fill="#e4e0da"/><rect x="792.7" y="256.9" width="1.7" height="1.9" fill="#e4e0da"/><rect x="804.6" y="253.7" width="2.2" height="1.2" fill="#9a9792"/><rect x="794.9" y="254.2" width="1.8" height="1.1" fill="#f1eeea"/><rect x="834.4" y="246.6" width="1.6" height="1.2" fill="#9a9792"/><rect x="858.2" y="247.6" width="2.3" height="1.6" fill="#9a9792"/><rect x="814.9" y="250.9" width="1.9" height="0.9" fill="#f1eeea"/>
<rect x="861.9" y="288.7" width="0.8" height="1.4" fill="#efece8"/><rect x="866.8" y="284.4" width="1.9" height="1.7" fill="#8a8782"/><rect x="864.4" y="218.3" width="1.3" height="1.6" fill="#6d6a66"/><rect x="862.3" y="224.1" width="1.0" height="1.5" fill="#6d6a66"/><rect x="865.1" y="226.2" width="1.0" height="1.8" fill="#6d6a66"/><rect x="863.8" y="206.3" width="1.0" height="0.9" fill="#6d6a66"/><rect x="860.0" y="195.6" width="1.7" height="1.8" fill="#8a8782"/><rect x="862.6" y="285.6" width="1.7" height="1.5" fill="#8a8782"/><rect x="863.9" y="239.1" width="1.9" height="1.4" fill="#8a8782"/><rect x="864.8" y="213.4" width="2.4" height="1.6" fill="#efece8"/><rect x="860.2" y="293.6" width="1.3" height="2.3" fill="#8a8782"/><rect x="863.8" y="197.3" width="1.8" height="1.5" fill="#efece8"/><rect x="860.3" y="199.0" width="1.4" height="1.6" fill="#6d6a66"/><rect x="862.2" y="292.4" width="2.1" height="1.2" fill="#efece8"/><rect x="866.8" y="267.4" width="1.3" height="1.6" fill="#efece8"/><rect x="864.1" y="284.0" width="2.2" height="2.2" fill="#8a8782"/><rect x="866.1" y="218.2" width="1.7" height="1.3" fill="#efece8"/><rect x="865.9" y="186.1" width="1.4" height="1.9" fill="#6d6a66"/>
<rect x="777.4" y="183.3" width="1.7" height="1.9" fill="#8a8782"/><rect x="779.2" y="246.8" width="0.8" height="2.0" fill="#6d6a86"/><rect x="778.5" y="263.6" width="2.3" height="1.8" fill="#6d6a86"/><rect x="778.2" y="262.8" width="2.0" height="2.2" fill="#6d6a86"/><rect x="779.1" y="190.7" width="2.1" height="1.9" fill="#6d6a86"/><rect x="778.5" y="258.9" width="1.6" height="1.3" fill="#8a8782"/><rect x="778.2" y="247.2" width="1.6" height="1.3" fill="#8a8782"/><rect x="778.1" y="246.3" width="0.9" height="2.0" fill="#6d6a86"/><rect x="779.1" y="275.6" width="1.9" height="0.8" fill="#5c6cb0"/>
<rect x="816.1" y="296.6" width="1.4" height="1.6" fill="#77746f"/><rect x="853.6" y="297.5" width="1.8" height="2.3" fill="#55524e"/><rect x="858.4" y="302.0" width="1.9" height="1.5" fill="#77746f"/><rect x="832.6" y="298.6" width="1.1" height="1.8" fill="#77746f"/><rect x="827.6" y="300.0" width="2.0" height="1.2" fill="#55524e"/><rect x="829.4" y="300.5" width="2.2" height="1.0" fill="#efece8"/><rect x="785.4" y="300.2" width="1.6" height="1.4" fill="#55524e"/><rect x="811.1" y="296.5" width="1.9" height="1.0" fill="#55524e"/><rect x="838.7" y="297.9" width="2.3" height="1.7" fill="#77746f"/><rect x="801.0" y="299.4" width="1.2" height="2.0" fill="#55524e"/><rect x="865.7" y="300.9" width="2.2" height="1.5" fill="#efece8"/><rect x="793.4" y="300.3" width="1.8" height="0.9" fill="#55524e"/><rect x="780.4" y="301.2" width="1.6" height="1.5" fill="#efece8"/><rect x="856.8" y="299.0" width="1.3" height="2.1" fill="#77746f"/><rect x="826.4" y="298.4" width="2.2" height="2.3" fill="#efece8"/><rect x="839.0" y="297.5" width="1.0" height="2.4" fill="#55524e"/><rect x="821.8" y="297.4" width="1.9" height="1.4" fill="#77746f"/><rect x="803.4" y="301.6" width="1.9" height="2.1" fill="#efece8"/>
</g><g filter="url(#fine)">
<rect x="779.20" y="182.60" width="80.70" height="63.10" fill="#908f8b" />
<rect x="779.60" y="260.10" width="80.40" height="36.00" fill="#8e8d89" />
</g>
<polyline points="781.0,190.0 858.0,190.0" fill="none" stroke="#4a5a96" stroke-width="0.7" stroke-dasharray="3 1.5" opacity="0.7"/>
<polyline points="781.0,207.0 858.0,207.0" fill="none" stroke="#4a5a96" stroke-width="0.7" stroke-dasharray="3 1.5" opacity="0.7"/>
<polyline points="781.0,222.0 858.0,222.0" fill="none" stroke="#4a5a96" stroke-width="0.7" stroke-dasharray="3 1.5" opacity="0.7"/>
<polyline points="781.0,236.0 858.0,236.0" fill="none" stroke="#4a5a96" stroke-width="0.7" stroke-dasharray="3 1.5" opacity="0.7"/>
<polyline points="781.0,268.0 858.0,268.0" fill="none" stroke="#4a5a96" stroke-width="0.7" stroke-dasharray="3 1.5" opacity="0.7"/>
<polyline points="781.0,279.0 858.0,279.0" fill="none" stroke="#4a5a96" stroke-width="0.7" stroke-dasharray="3 1.5" opacity="0.7"/>
<polyline points="781.0,289.0 858.0,289.0" fill="none" stroke="#4a5a96" stroke-width="0.7" stroke-dasharray="3 1.5" opacity="0.7"/>
<rect x="779.20" y="182.60" width="80.70" height="63.10" fill="none" stroke="#c436c8" stroke-width="0.7" />
<rect x="779.60" y="260.10" width="80.40" height="36.00" fill="none" stroke="#c436c8" stroke-width="0.7" />
<rect x="777.10" y="301.90" width="90.90" height="4.80" fill="#f1574a" />
<rect x="786.00" y="297.00" width="2.00" height="9.60" fill="#e2581c" />
<rect x="790.60" y="174.10" width="2.40" height="22.40" fill="#e2581c" />
<rect x="796.10" y="174.10" width="2.40" height="22.40" fill="#e2581c" />
<rect x="835.80" y="174.10" width="2.40" height="22.40" fill="#e2581c" />
<rect x="841.50" y="174.10" width="2.40" height="22.40" fill="#e2581c" />
<rect x="847.20" y="174.10" width="2.40" height="22.40" fill="#e2581c" />
<rect x="859.90" y="174.10" width="2.20" height="23.00" fill="#e8402c" />
<rect x="860.20" y="197.00" width="2.60" height="5.50" fill="#c436c8" />
<rect x="860.20" y="261.00" width="2.80" height="17.00" fill="#c436c8" />
<rect x="827.40" y="192.50" width="2.60" height="24.50" fill="#78c81e" />
<circle cx="827.6" cy="192.8" r="1.3" fill="#f4f8ee"/>
<rect x="804.50" y="226.50" width="2.60" height="21.50" fill="#78c81e" />
<circle cx="804.7" cy="226.8" r="1.3" fill="#f4f8ee"/>
<rect x="849.50" y="226.50" width="2.60" height="21.50" fill="#78c81e" />
<circle cx="849.7" cy="226.8" r="1.3" fill="#f4f8ee"/>
<rect x="827.90" y="269.00" width="2.60" height="25.00" fill="#78c81e" />
<circle cx="828.1" cy="269.3" r="1.3" fill="#f4f8ee"/>
</g>
<clipPath id="cp2"><rect x="871.3" y="174.1" width="199.6" height="132.5"/></clipPath>
<g clip-path="url(#cp2)"><g filter="url(#mott)">
<rect x="871.30" y="174.10" width="199.60" height="132.50" fill="#a9a7a3" />
<rect x="895.3" y="179.8" width="1.8" height="2.1" fill="#8d8b87"/><rect x="1040.2" y="176.6" width="0.9" height="2.4" fill="#d9d6d1"/><rect x="1001.3" y="176.8" width="1.0" height="0.9" fill="#d9d6d1"/><rect x="905.7" y="177.5" width="2.3" height="1.9" fill="#55534f"/><rect x="871.4" y="177.3" width="2.2" height="1.8" fill="#8d8b87"/><rect x="928.1" y="177.3" width="1.1" height="1.8" fill="#6f6d69"/><rect x="937.1" y="176.8" width="2.2" height="1.0" fill="#55534f"/><rect x="890.7" y="179.7" width="2.0" height="1.9" fill="#6f6d69"/><rect x="956.0" y="174.3" width="2.3" height="1.4" fill="#6f6d69"/><rect x="992.1" y="178.7" width="1.6" height="2.3" fill="#6f6d69"/><rect x="1009.3" y="176.3" width="1.5" height="1.2" fill="#d9d6d1"/><rect x="877.2" y="179.0" width="1.7" height="1.9" fill="#8d8b87"/><rect x="1031.5" y="179.0" width="1.9" height="1.1" fill="#55534f"/><rect x="921.0" y="179.2" width="1.9" height="1.1" fill="#d9d6d1"/><rect x="902.2" y="175.5" width="0.9" height="1.8" fill="#55534f"/><rect x="872.4" y="174.5" width="2.0" height="1.5" fill="#6f6d69"/><rect x="877.1" y="179.9" width="2.1" height="1.7" fill="#6f6d69"/><rect x="997.2" y="175.7" width="2.1" height="0.9" fill="#8d8b87"/><rect x="880.7" y="175.8" width="0.9" height="1.4" fill="#6f6d69"/><rect x="879.7" y="179.9" width="1.5" height="1.8" fill="#6f6d69"/><rect x="1038.2" y="175.4" width="1.9" height="1.8" fill="#d9d6d1"/><rect x="964.7" y="174.7" width="1.3" height="1.0" fill="#d9d6d1"/><rect x="976.4" y="180.0" width="1.1" height="0.8" fill="#55534f"/><rect x="956.8" y="178.0" width="1.4" height="1.8" fill="#6f6d69"/><rect x="1031.7" y="176.2" width="1.5" height="2.1" fill="#d9d6d1"/><rect x="968.7" y="175.1" width="1.6" height="2.0" fill="#55534f"/><rect x="1015.3" y="176.3" width="1.0" height="0.9" fill="#d9d6d1"/><rect x="993.8" y="179.6" width="2.3" height="1.9" fill="#55534f"/><rect x="882.1" y="178.9" width="0.9" height="1.1" fill="#55534f"/><rect x="1026.4" y="180.2" width="0.9" height="2.0" fill="#8d8b87"/><rect x="1003.5" y="177.9" width="2.2" height="1.8" fill="#d9d6d1"/><rect x="972.3" y="177.2" width="2.1" height="1.8" fill="#6f6d69"/><rect x="999.2" y="178.9" width="1.2" height="2.1" fill="#8d8b87"/><rect x="970.0" y="176.3" width="1.3" height="1.0" fill="#8d8b87"/><rect x="990.1" y="176.1" width="0.9" height="2.0" fill="#6f6d69"/><rect x="876.1" y="174.4" width="1.0" height="1.4" fill="#55534f"/><rect x="1038.1" y="178.3" width="1.2" height="1.5" fill="#55534f"/><rect x="906.6" y="176.6" width="1.1" height="1.8" fill="#d9d6d1"/><rect x="999.0" y="174.8" width="1.6" height="1.1" fill="#d9d6d1"/><rect x="949.7" y="180.6" width="2.1" height="1.0" fill="#55534f"/>
<rect x="928.9" y="209.7" width="2.2" height="1.3" fill="#77746f"/><rect x="936.8" y="298.6" width="2.1" height="2.9" fill="#77746f"/><rect x="920.5" y="283.3" width="1.8" height="1.1" fill="#77746f"/><rect x="918.8" y="253.5" width="2.0" height="2.8" fill="#c9c6c1"/><rect x="929.4" y="206.3" width="2.6" height="1.6" fill="#5d5a56"/><rect x="936.7" y="279.6" width="1.7" height="2.6" fill="#77746f"/><rect x="933.1" y="231.3" width="1.3" height="2.7" fill="#c9c6c1"/><rect x="927.3" y="192.8" width="1.8" height="2.5" fill="#5d5a56"/><rect x="940.1" y="206.0" width="2.6" height="1.6" fill="#c9c6c1"/><rect x="939.1" y="259.3" width="2.6" height="1.8" fill="#77746f"/><rect x="920.5" y="257.0" width="2.2" height="2.6" fill="#77746f"/><rect x="925.8" y="184.4" width="1.6" height="1.8" fill="#c9c6c1"/><rect x="931.4" y="267.7" width="1.9" height="2.6" fill="#77746f"/><rect x="931.1" y="281.3" width="1.7" height="2.2" fill="#dedbd6"/><rect x="925.0" y="190.8" width="1.2" height="1.7" fill="#c9c6c1"/><rect x="925.5" y="297.7" width="1.5" height="2.4" fill="#77746f"/><rect x="918.9" y="192.1" width="2.9" height="1.6" fill="#5d5a56"/><rect x="934.8" y="286.3" width="2.5" height="2.2" fill="#dedbd6"/><rect x="929.8" y="192.5" width="1.2" height="1.7" fill="#c9c6c1"/><rect x="927.6" y="181.4" width="1.8" height="1.4" fill="#dedbd6"/><rect x="940.3" y="258.1" width="1.8" height="1.2" fill="#5d5a56"/><rect x="924.1" y="193.6" width="1.6" height="2.6" fill="#77746f"/><rect x="940.0" y="202.0" width="2.3" height="2.5" fill="#dedbd6"/><rect x="934.1" y="252.6" width="2.3" height="2.3" fill="#c9c6c1"/><rect x="928.2" y="234.4" width="2.1" height="2.8" fill="#5d5a56"/><rect x="928.2" y="191.6" width="2.8" height="1.7" fill="#c9c6c1"/><rect x="918.7" y="195.5" width="2.1" height="2.2" fill="#dedbd6"/><rect x="928.6" y="222.0" width="1.2" height="2.6" fill="#5d5a56"/><rect x="935.9" y="188.7" width="2.0" height="2.7" fill="#77746f"/><rect x="925.8" y="287.8" width="2.3" height="2.9" fill="#dedbd6"/><rect x="939.9" y="258.3" width="2.6" height="2.7" fill="#77746f"/><rect x="922.7" y="200.7" width="1.2" height="1.3" fill="#77746f"/><rect x="932.1" y="236.4" width="1.6" height="2.5" fill="#dedbd6"/><rect x="935.5" y="297.1" width="2.9" height="2.3" fill="#77746f"/><rect x="927.0" y="283.3" width="1.4" height="1.6" fill="#dedbd6"/><rect x="929.2" y="266.5" width="2.5" height="1.2" fill="#c9c6c1"/><rect x="941.1" y="239.5" width="1.0" height="3.0" fill="#5d5a56"/><rect x="921.3" y="181.4" width="1.8" height="1.7" fill="#77746f"/><rect x="930.0" y="298.8" width="2.4" height="1.0" fill="#c9c6c1"/><rect x="942.5" y="275.3" width="1.4" height="1.7" fill="#dedbd6"/><rect x="925.1" y="243.6" width="2.4" height="2.6" fill="#77746f"/><rect x="925.3" y="223.3" width="2.7" height="2.0" fill="#77746f"/><rect x="923.4" y="304.8" width="1.5" height="2.4" fill="#dedbd6"/><rect x="924.6" y="193.1" width="2.0" height="3.0" fill="#c9c6c1"/><rect x="939.0" y="211.8" width="1.9" height="1.3" fill="#77746f"/><rect x="918.1" y="277.2" width="1.7" height="1.0" fill="#5d5a56"/><rect x="931.8" y="301.2" width="2.7" height="1.2" fill="#dedbd6"/><rect x="922.7" y="281.9" width="1.0" height="2.0" fill="#5d5a56"/><rect x="932.7" y="286.4" width="1.9" height="1.0" fill="#dedbd6"/><rect x="927.6" y="278.8" width="1.9" height="2.2" fill="#77746f"/><rect x="923.3" y="234.0" width="2.4" height="2.6" fill="#c9c6c1"/><rect x="940.4" y="228.5" width="3.0" height="2.5" fill="#5d5a56"/><rect x="921.6" y="279.1" width="1.8" height="2.9" fill="#5d5a56"/><rect x="923.3" y="233.9" width="1.5" height="1.9" fill="#5d5a56"/><rect x="918.1" y="260.6" width="2.5" height="2.5" fill="#77746f"/><rect x="919.8" y="228.9" width="2.8" height="2.8" fill="#dedbd6"/><rect x="933.9" y="274.9" width="2.0" height="1.6" fill="#c9c6c1"/><rect x="921.3" y="210.7" width="2.8" height="2.9" fill="#77746f"/><rect x="918.4" y="283.0" width="1.2" height="1.3" fill="#5d5a56"/><rect x="926.2" y="208.0" width="1.6" height="2.8" fill="#77746f"/><rect x="924.9" y="194.3" width="1.8" height="1.6" fill="#c9c6c1"/><rect x="931.4" y="236.7" width="2.7" height="2.9" fill="#dedbd6"/><rect x="924.4" y="249.5" width="2.5" height="1.3" fill="#c9c6c1"/><rect x="934.3" y="188.0" width="1.0" height="1.4" fill="#dedbd6"/><rect x="930.4" y="257.7" width="2.6" height="1.1" fill="#dedbd6"/>
<rect x="1038.4" y="229.4" width="1.7" height="1.0" fill="#5d5a56"/><rect x="1042.2" y="193.9" width="1.2" height="2.8" fill="#5d5a56"/><rect x="1044.8" y="298.7" width="2.9" height="3.0" fill="#5d5a56"/><rect x="1046.0" y="255.2" width="2.4" height="2.3" fill="#77746f"/><rect x="1045.0" y="247.4" width="1.8" height="2.8" fill="#5d5a56"/><rect x="1045.8" y="227.9" width="1.8" height="1.9" fill="#77746f"/><rect x="1042.7" y="252.1" width="1.4" height="1.9" fill="#77746f"/><rect x="1045.0" y="195.7" width="2.8" height="1.7" fill="#5d5a56"/><rect x="1040.5" y="215.6" width="2.6" height="2.5" fill="#5d5a56"/><rect x="1040.4" y="184.1" width="1.5" height="1.3" fill="#dedbd6"/><rect x="1044.7" y="255.4" width="2.8" height="2.8" fill="#dedbd6"/><rect x="1043.6" y="252.0" width="2.8" height="1.7" fill="#77746f"/><rect x="1038.1" y="186.4" width="2.6" height="2.0" fill="#77746f"/><rect x="1038.2" y="232.7" width="1.8" height="2.1" fill="#c9c6c1"/><rect x="1043.8" y="208.8" width="2.9" height="1.2" fill="#77746f"/><rect x="1044.8" y="255.3" width="1.1" height="2.4" fill="#5d5a56"/><rect x="1044.2" y="293.0" width="2.4" height="1.1" fill="#5d5a56"/><rect x="1039.1" y="275.8" width="1.5" height="1.6" fill="#77746f"/><rect x="1046.3" y="221.5" width="2.3" height="2.0" fill="#c9c6c1"/><rect x="1039.5" y="208.2" width="1.5" height="2.9" fill="#dedbd6"/><rect x="1042.3" y="199.9" width="3.0" height="2.3" fill="#c9c6c1"/><rect x="1043.9" y="262.7" width="1.3" height="1.3" fill="#c9c6c1"/><rect x="1039.6" y="244.1" width="2.9" height="1.7" fill="#77746f"/><rect x="1039.4" y="214.6" width="2.0" height="2.1" fill="#dedbd6"/><rect x="1043.3" y="264.2" width="1.8" height="2.6" fill="#5d5a56"/><rect x="1040.8" y="194.5" width="1.5" height="1.7" fill="#5d5a56"/><rect x="1042.6" y="270.1" width="1.2" height="2.6" fill="#77746f"/><rect x="1041.2" y="193.9" width="2.3" height="2.7" fill="#dedbd6"/><rect x="1038.5" y="303.1" width="1.8" height="2.3" fill="#5d5a56"/><rect x="1038.9" y="288.7" width="2.8" height="1.6" fill="#5d5a56"/>
<rect x="997.3" y="301.5" width="2.2" height="0.9" fill="#d9d6d1"/><rect x="883.4" y="298.3" width="1.0" height="2.0" fill="#55534f"/><rect x="942.7" y="302.0" width="0.9" height="1.5" fill="#55534f"/><rect x="966.4" y="303.6" width="1.9" height="1.3" fill="#d9d6d1"/><rect x="1037.5" y="302.0" width="1.0" height="2.0" fill="#6f6d69"/><rect x="979.4" y="298.8" width="1.8" height="1.9" fill="#d9d6d1"/><rect x="948.2" y="300.3" width="1.7" height="2.4" fill="#d9d6d1"/><rect x="878.2" y="305.6" width="2.4" height="1.0" fill="#55534f"/><rect x="982.7" y="305.9" width="1.3" height="2.1" fill="#55534f"/><rect x="883.8" y="300.6" width="2.2" height="1.8" fill="#d9d6d1"/><rect x="949.2" y="305.9" width="1.7" height="1.6" fill="#d9d6d1"/><rect x="900.5" y="303.4" width="1.5" height="1.4" fill="#55534f"/><rect x="977.6" y="299.2" width="1.1" height="1.9" fill="#55534f"/><rect x="1006.4" y="301.8" width="1.2" height="1.2" fill="#55534f"/><rect x="887.1" y="301.8" width="1.8" height="2.2" fill="#6f6d69"/><rect x="1012.2" y="302.1" width="1.3" height="2.2" fill="#55534f"/><rect x="933.9" y="298.5" width="2.0" height="1.0" fill="#6f6d69"/><rect x="930.4" y="303.1" width="1.8" height="1.6" fill="#55534f"/><rect x="1032.8" y="300.4" width="1.3" height="2.2" fill="#6f6d69"/><rect x="963.4" y="300.5" width="1.4" height="2.0" fill="#d9d6d1"/><rect x="986.4" y="304.5" width="2.0" height="0.8" fill="#6f6d69"/><rect x="926.2" y="305.3" width="1.9" height="1.5" fill="#55534f"/><rect x="990.0" y="300.9" width="2.0" height="1.6" fill="#55534f"/><rect x="992.4" y="304.8" width="0.8" height="1.7" fill="#55534f"/><rect x="871.5" y="304.8" width="2.0" height="2.1" fill="#6f6d69"/><rect x="911.2" y="298.0" width="2.4" height="2.0" fill="#6f6d69"/><rect x="1042.5" y="305.3" width="1.2" height="2.1" fill="#55534f"/><rect x="889.3" y="301.6" width="2.2" height="1.8" fill="#6f6d69"/><rect x="907.3" y="300.0" width="0.9" height="2.3" fill="#d9d6d1"/><rect x="947.7" y="300.6" width="2.0" height="1.4" fill="#55534f"/><rect x="968.1" y="304.9" width="2.1" height="2.0" fill="#d9d6d1"/><rect x="964.5" y="298.0" width="1.5" height="1.5" fill="#6f6d69"/><rect x="1005.9" y="298.9" width="1.5" height="1.5" fill="#d9d6d1"/><rect x="955.0" y="302.5" width="0.8" height="2.1" fill="#55534f"/><rect x="980.8" y="305.2" width="1.8" height="1.9" fill="#55534f"/><rect x="907.2" y="303.6" width="1.5" height="1.6" fill="#6f6d69"/><rect x="993.7" y="299.7" width="1.7" height="2.2" fill="#6f6d69"/><rect x="910.0" y="298.0" width="1.5" height="1.3" fill="#55534f"/><rect x="1024.4" y="301.4" width="2.0" height="1.0" fill="#d9d6d1"/><rect x="992.4" y="299.9" width="1.4" height="1.5" fill="#d9d6d1"/>
</g><g filter="url(#fine)">
<rect x="871.30" y="180.30" width="46.70" height="117.60" fill="#7e7d79" />
<rect x="942.50" y="186.50" width="95.60" height="112.30" fill="#7a7975" />
<rect x="1047.30" y="174.10" width="23.60" height="132.50" fill="#8c8f8b" />
</g>
<rect x="1000" y="190" width="13" height="106" fill="#a3a3a1" opacity="0.4" filter="url(#band)"/>
<polyline points="886.5,181.0 886.5,297.0" fill="none" stroke="#3f4350" stroke-width="0.9" stroke-dasharray="4 2" opacity="0.8"/>
<polyline points="906.5,181.0 906.5,297.0" fill="none" stroke="#3f4350" stroke-width="0.9" stroke-dasharray="4 2" opacity="0.8"/>
<polyline points="953.0,188.0 953.0,298.0" fill="none" stroke="#43454e" stroke-width="0.9" stroke-dasharray="4 2" opacity="0.75"/>
<polyline points="975.0,188.0 975.0,298.0" fill="none" stroke="#43454e" stroke-width="0.9" stroke-dasharray="4 2" opacity="0.75"/>
<polyline points="998.0,188.0 998.0,298.0" fill="none" stroke="#43454e" stroke-width="0.9" stroke-dasharray="4 2" opacity="0.75"/>
<polyline points="1021.0,188.0 1021.0,298.0" fill="none" stroke="#43454e" stroke-width="0.9" stroke-dasharray="4 2" opacity="0.75"/>
<polyline points="871.3,180.3 918.0,180.3 918.0,297.9 871.3,297.9" fill="none" stroke="#3a5a9a" stroke-width="0.6" opacity="0.7"/>
<rect x="942.50" y="186.50" width="95.60" height="112.30" fill="none" stroke="#c436c8" stroke-width="0.8" />
<rect x="1012.00" y="298.80" width="26.00" height="3.60" fill="#c436c8" />
<rect x="950.50" y="195.20" width="83.00" height="3.40" fill="#78c81e" />
<rect x="975.30" y="242.70" width="32.50" height="3.40" fill="#78c81e" />
<rect x="949.80" y="294.30" width="32.40" height="3.40" fill="#78c81e" />
<rect x="999.80" y="294.30" width="33.20" height="3.40" fill="#78c81e" />
<rect x="871.30" y="241.00" width="14.60" height="3.40" fill="#78c81e" />
<circle cx="981.5" cy="193.0" r="1.6" fill="#f4f8ee"/>
<circle cx="1008.0" cy="193.5" r="1.6" fill="#f4f8ee"/>
<circle cx="1031.5" cy="193.0" r="1.6" fill="#f4f8ee"/>
<circle cx="1006.0" cy="241.0" r="1.6" fill="#f4f8ee"/>
<circle cx="980.5" cy="292.5" r="1.6" fill="#f4f8ee"/>
<circle cx="1030.5" cy="292.5" r="1.6" fill="#f4f8ee"/>
<circle cx="884.5" cy="239.0" r="1.6" fill="#f4f8ee"/>
<rect x="897.30" y="236.00" width="33.10" height="3.40" fill="#e2581c" />
<rect x="897.30" y="260.10" width="33.10" height="3.40" fill="#e2581c" />
<rect x="897.30" y="269.00" width="33.10" height="3.40" fill="#e2581c" />
<rect x="897.30" y="276.10" width="33.10" height="3.40" fill="#e2581c" />
<rect x="897.30" y="293.80" width="33.10" height="3.40" fill="#e2581c" />
<rect x="919.00" y="232.50" width="11.00" height="3.20" fill="none" stroke="#e2581c" stroke-width="0.5" />
<rect x="919.00" y="257.00" width="11.00" height="3.20" fill="none" stroke="#e2581c" stroke-width="0.5" />
<rect x="919.00" y="290.00" width="11.00" height="3.20" fill="none" stroke="#e2581c" stroke-width="0.5" />
<rect x="1060.00" y="176.00" width="9.00" height="8.00" fill="#6b6e70" />
<rect x="1061.00" y="298.00" width="9.00" height="8.00" fill="#70747a" />
<ellipse cx="1044" cy="258" rx="5" ry="5.5" fill="#5e5b57"/>
<path d="M1048 270 l8 -2 l6 3 l4 8 l-3 6 l-8 1 l-6 -5z" fill="#5a6068"/>
<circle cx="1057.2" cy="276.4" r="5.6" fill="#f2c126"/><circle cx="1056.2" cy="275" r="2.6" fill="#f8d95a"/>
<path d="M1046 270 l6 2 M1055 286 l4 3" stroke="#c9a68c" stroke-width="1.6" fill="none"/>
</g>
<clipPath id="cp3"><rect x="1074.0" y="174.1" width="91.1" height="132.5"/></clipPath>
<g clip-path="url(#cp3)"><g filter="url(#mott)">
<rect x="1074.00" y="174.10" width="91.10" height="132.50" fill="#62615e" />
<rect x="1161.4" y="176.3" width="1.8" height="1.3" fill="#2e2d2b"/><rect x="1152.3" y="179.5" width="2.2" height="2.4" fill="#8e8c88"/><rect x="1146.2" y="177.4" width="2.1" height="2.1" fill="#2e2d2b"/><rect x="1140.9" y="179.9" width="1.3" height="1.9" fill="#2e2d2b"/><rect x="1136.1" y="180.2" width="1.3" height="1.9" fill="#3e3d3a"/><rect x="1107.3" y="174.8" width="2.0" height="1.6" fill="#3e3d3a"/><rect x="1131.1" y="175.5" width="1.9" height="2.1" fill="#3e3d3a"/><rect x="1141.6" y="179.6" width="1.7" height="2.3" fill="#8e8c88"/><rect x="1140.1" y="181.1" width="1.8" height="1.6" fill="#3e3d3a"/><rect x="1139.8" y="177.0" width="2.4" height="1.4" fill="#2e2d2b"/><rect x="1115.1" y="181.4" width="2.0" height="1.9" fill="#3e3d3a"/><rect x="1109.8" y="178.5" width="2.6" height="1.0" fill="#8e8c88"/><rect x="1100.8" y="180.6" width="1.1" height="1.9" fill="#3e3d3a"/><rect x="1081.6" y="179.3" width="1.5" height="1.1" fill="#8e8c88"/><rect x="1111.1" y="176.6" width="2.4" height="2.2" fill="#8e8c88"/><rect x="1131.3" y="180.3" width="2.5" height="2.4" fill="#2e2d2b"/><rect x="1153.3" y="179.5" width="1.1" height="1.8" fill="#8e8c88"/><rect x="1093.7" y="176.5" width="1.7" height="2.0" fill="#2e2d2b"/><rect x="1080.5" y="179.4" width="1.4" height="1.5" fill="#3e3d3a"/><rect x="1127.7" y="174.7" width="1.6" height="1.7" fill="#3e3d3a"/><rect x="1105.5" y="181.6" width="1.1" height="1.5" fill="#3e3d3a"/><rect x="1106.4" y="174.9" width="1.5" height="2.3" fill="#8e8c88"/><rect x="1103.9" y="179.5" width="1.7" height="2.4" fill="#3e3d3a"/><rect x="1128.1" y="181.1" width="1.5" height="1.7" fill="#2e2d2b"/><rect x="1121.9" y="178.2" width="1.1" height="1.8" fill="#8e8c88"/><rect x="1111.6" y="175.7" width="2.2" height="2.5" fill="#3e3d3a"/><rect x="1086.0" y="177.6" width="2.4" height="1.5" fill="#8e8c88"/>
<rect x="1156.9" y="299.1" width="1.2" height="1.0" fill="#8e8c88"/><rect x="1161.3" y="187.2" width="1.2" height="2.2" fill="#3e3d3a"/><rect x="1151.9" y="192.1" width="2.0" height="1.5" fill="#8e8c88"/><rect x="1151.5" y="238.9" width="1.3" height="1.5" fill="#77746f"/><rect x="1162.8" y="259.2" width="2.4" height="1.3" fill="#77746f"/><rect x="1165.0" y="287.8" width="1.1" height="1.7" fill="#2e2d2b"/><rect x="1156.2" y="279.7" width="2.5" height="2.5" fill="#77746f"/><rect x="1156.6" y="238.0" width="1.4" height="1.2" fill="#77746f"/><rect x="1156.0" y="204.6" width="2.6" height="1.0" fill="#77746f"/><rect x="1155.4" y="206.3" width="1.2" height="2.5" fill="#77746f"/><rect x="1152.7" y="229.1" width="1.3" height="1.3" fill="#77746f"/><rect x="1154.4" y="244.2" width="1.9" height="1.8" fill="#3e3d3a"/><rect x="1161.9" y="220.2" width="1.5" height="2.0" fill="#8e8c88"/><rect x="1162.9" y="183.6" width="1.3" height="1.1" fill="#77746f"/><rect x="1158.4" y="187.7" width="1.4" height="2.6" fill="#2e2d2b"/><rect x="1154.1" y="238.8" width="1.1" height="1.2" fill="#8e8c88"/><rect x="1152.5" y="268.4" width="1.2" height="2.4" fill="#3e3d3a"/><rect x="1161.8" y="293.5" width="1.9" height="2.5" fill="#2e2d2b"/><rect x="1162.0" y="213.8" width="1.3" height="1.4" fill="#3e3d3a"/><rect x="1156.5" y="212.0" width="2.5" height="2.3" fill="#2e2d2b"/><rect x="1157.6" y="210.9" width="1.1" height="2.2" fill="#8e8c88"/><rect x="1156.4" y="253.4" width="1.5" height="1.1" fill="#2e2d2b"/><rect x="1151.0" y="200.4" width="2.2" height="2.5" fill="#2e2d2b"/><rect x="1156.2" y="301.3" width="1.8" height="2.3" fill="#3e3d3a"/><rect x="1159.3" y="222.1" width="1.6" height="1.5" fill="#8e8c88"/><rect x="1163.0" y="280.5" width="1.5" height="1.2" fill="#3e3d3a"/><rect x="1159.3" y="206.8" width="2.5" height="1.9" fill="#3e3d3a"/><rect x="1154.2" y="207.6" width="2.1" height="1.9" fill="#2e2d2b"/><rect x="1162.8" y="199.3" width="2.2" height="1.3" fill="#77746f"/><rect x="1154.1" y="236.7" width="1.5" height="1.4" fill="#8e8c88"/><rect x="1159.3" y="281.8" width="2.0" height="2.1" fill="#2e2d2b"/><rect x="1158.9" y="299.7" width="2.6" height="1.0" fill="#3e3d3a"/><rect x="1158.8" y="257.4" width="2.0" height="1.5" fill="#2e2d2b"/><rect x="1162.7" y="288.2" width="2.0" height="1.5" fill="#8e8c88"/><rect x="1157.2" y="251.8" width="1.3" height="1.2" fill="#3e3d3a"/><rect x="1163.8" y="204.5" width="1.9" height="1.3" fill="#8e8c88"/><rect x="1154.9" y="285.0" width="1.4" height="2.0" fill="#2e2d2b"/><rect x="1160.7" y="259.9" width="1.0" height="1.4" fill="#2e2d2b"/><rect x="1162.3" y="229.2" width="2.3" height="1.1" fill="#77746f"/><rect x="1157.8" y="200.6" width="2.1" height="2.2" fill="#77746f"/>
<rect x="1080.6" y="189.7" width="2.6" height="1.6" fill="#4b4a47"/><rect x="1074.3" y="244.9" width="2.1" height="1.5" fill="#4b4a47"/><rect x="1075.2" y="235.8" width="2.3" height="2.1" fill="#6e6c68"/><rect x="1080.5" y="270.2" width="2.1" height="2.1" fill="#6e6c68"/><rect x="1078.0" y="279.9" width="2.1" height="1.5" fill="#6e6c68"/><rect x="1076.9" y="241.7" width="2.4" height="1.3" fill="#8e8c88"/><rect x="1077.4" y="243.1" width="2.0" height="1.4" fill="#6e6c68"/><rect x="1076.3" y="271.0" width="2.5" height="1.1" fill="#8e8c88"/><rect x="1078.6" y="249.2" width="2.3" height="2.4" fill="#6e6c68"/><rect x="1074.1" y="269.0" width="2.1" height="1.2" fill="#6e6c68"/><rect x="1079.6" y="285.2" width="1.1" height="1.7" fill="#6e6c68"/><rect x="1080.6" y="276.2" width="1.5" height="2.2" fill="#4b4a47"/><rect x="1080.9" y="246.8" width="2.2" height="1.5" fill="#6e6c68"/><rect x="1080.8" y="243.5" width="1.8" height="2.1" fill="#4b4a47"/><rect x="1076.3" y="277.9" width="1.9" height="1.0" fill="#6e6c68"/><rect x="1075.4" y="250.3" width="1.4" height="2.6" fill="#6e6c68"/><rect x="1079.7" y="212.1" width="2.1" height="1.9" fill="#8e8c88"/><rect x="1075.6" y="233.6" width="1.3" height="1.7" fill="#8e8c88"/><rect x="1074.8" y="200.5" width="1.5" height="2.2" fill="#8e8c88"/><rect x="1079.4" y="305.7" width="1.2" height="1.9" fill="#8e8c88"/><rect x="1074.8" y="247.3" width="1.4" height="1.2" fill="#6e6c68"/><rect x="1074.7" y="219.5" width="1.2" height="2.5" fill="#6e6c68"/>
<rect x="1102.9" y="306.1" width="1.1" height="2.4" fill="#8e8c88"/><rect x="1108.9" y="298.1" width="2.3" height="1.8" fill="#8e8c88"/><rect x="1141.1" y="304.8" width="1.0" height="1.5" fill="#8e8c88"/><rect x="1086.6" y="303.9" width="2.0" height="1.6" fill="#2e2d2b"/><rect x="1152.8" y="299.7" width="1.7" height="2.5" fill="#3e3d3a"/><rect x="1115.3" y="300.0" width="2.5" height="1.8" fill="#8e8c88"/><rect x="1121.4" y="297.7" width="2.6" height="1.2" fill="#2e2d2b"/><rect x="1095.7" y="306.6" width="2.0" height="1.8" fill="#2e2d2b"/><rect x="1135.2" y="301.5" width="1.8" height="1.3" fill="#2e2d2b"/><rect x="1076.7" y="298.2" width="1.6" height="1.0" fill="#2e2d2b"/><rect x="1116.6" y="302.4" width="2.4" height="2.4" fill="#8e8c88"/><rect x="1093.1" y="305.2" width="1.8" height="1.1" fill="#3e3d3a"/><rect x="1130.0" y="306.3" width="1.9" height="2.6" fill="#8e8c88"/><rect x="1078.2" y="305.5" width="2.5" height="2.1" fill="#3e3d3a"/><rect x="1095.2" y="302.0" width="2.4" height="1.2" fill="#8e8c88"/><rect x="1095.3" y="297.6" width="1.8" height="1.3" fill="#8e8c88"/><rect x="1160.0" y="306.3" width="2.0" height="1.9" fill="#3e3d3a"/><rect x="1114.5" y="298.6" width="1.6" height="1.2" fill="#8e8c88"/><rect x="1101.1" y="306.4" width="1.5" height="2.5" fill="#2e2d2b"/><rect x="1159.0" y="304.0" width="1.1" height="1.4" fill="#2e2d2b"/><rect x="1107.8" y="299.9" width="1.8" height="2.2" fill="#8e8c88"/><rect x="1105.4" y="298.6" width="1.4" height="1.8" fill="#8e8c88"/>
</g><g filter="url(#fine)">
<rect x="1081.00" y="181.90" width="69.70" height="115.30" fill="#484744" />
</g><clipPath id="cp3b"><rect x="1081" y="181.9" width="69.7" height="115.3"/></clipPath><g clip-path="url(#cp3b)">
<ellipse cx="1118" cy="203" rx="26" ry="7" fill="#8a8a86" opacity="0.4" filter="url(#band)"/>
<ellipse cx="1116" cy="266" rx="32" ry="7" fill="#92928e" opacity="0.5" filter="url(#band)"/>
</g>
<polyline points="1091.5,183.0 1091.5,296.0" fill="none" stroke="#23283c" stroke-width="0.7" stroke-dasharray="3 2" opacity="0.8"/>
<polyline points="1106.5,183.0 1106.5,296.0" fill="none" stroke="#23283c" stroke-width="0.7" stroke-dasharray="3 2" opacity="0.8"/>
<polyline points="1124.5,183.0 1124.5,296.0" fill="none" stroke="#23283c" stroke-width="0.7" stroke-dasharray="3 2" opacity="0.8"/>
<polyline points="1141.0,183.0 1141.0,296.0" fill="none" stroke="#23283c" stroke-width="0.7" stroke-dasharray="3 2" opacity="0.8"/>
<rect x="1081.00" y="181.90" width="69.70" height="115.30" fill="none" stroke="#9a2ca0" stroke-width="0.8" />
<rect x="1150.70" y="182.00" width="2.80" height="23.00" fill="#c436c8" />
<rect x="1081.00" y="209.40" width="2.60" height="46.60" fill="#e2581c" />
<rect x="1081.00" y="262.80" width="2.60" height="26.40" fill="#e2581c" />
<rect x="1159.40" y="195.20" width="2.60" height="26.40" fill="#e2581c" />
<rect x="1159.40" y="227.30" width="2.60" height="61.90" fill="#e2581c" />
<polyline points="1074.0,210.0 1081.0,210.0" fill="none" stroke="#e2581c" stroke-width="0.5" />
<polyline points="1074.0,214.0 1081.0,214.0" fill="none" stroke="#e2581c" stroke-width="0.5" />
<polyline points="1074.0,232.0 1081.0,232.0" fill="none" stroke="#e2581c" stroke-width="0.5" />
<polyline points="1074.0,238.0 1081.0,238.0" fill="none" stroke="#e2581c" stroke-width="0.5" />
<polyline points="1074.0,244.0 1081.0,244.0" fill="none" stroke="#e2581c" stroke-width="0.5" />
<polyline points="1074.0,250.0 1081.0,250.0" fill="none" stroke="#e2581c" stroke-width="0.5" />
<polyline points="1074.0,256.0 1081.0,256.0" fill="none" stroke="#e2581c" stroke-width="0.5" />
<polyline points="1074.0,262.0 1081.0,262.0" fill="none" stroke="#e2581c" stroke-width="0.5" />
<polyline points="1074.0,267.0 1081.0,267.0" fill="none" stroke="#e2581c" stroke-width="0.5" />
<polyline points="1074.0,273.0 1081.0,273.0" fill="none" stroke="#e2581c" stroke-width="0.5" />
<polyline points="1152.0,198.0 1160.0,198.0" fill="none" stroke="#e2581c" stroke-width="0.5" />
<polyline points="1152.0,228.0 1160.0,228.0" fill="none" stroke="#e2581c" stroke-width="0.5" />
<polyline points="1152.0,232.0 1160.0,232.0" fill="none" stroke="#e2581c" stroke-width="0.5" />
<polyline points="1152.0,243.0 1160.0,243.0" fill="none" stroke="#e2581c" stroke-width="0.5" />
<polyline points="1152.0,246.0 1160.0,246.0" fill="none" stroke="#e2581c" stroke-width="0.5" />
<polyline points="1152.0,262.0 1160.0,262.0" fill="none" stroke="#e2581c" stroke-width="0.5" />
<polyline points="1152.0,266.0 1160.0,266.0" fill="none" stroke="#e2581c" stroke-width="0.5" />
<rect x="1109.00" y="190.60" width="3.00" height="27.50" fill="#6db418" />
<circle cx="1108.8" cy="191.2" r="1.4" fill="#f4f8ee"/>
<rect x="1128.40" y="190.60" width="3.00" height="26.40" fill="#6db418" />
<circle cx="1128.2" cy="191.2" r="1.4" fill="#f4f8ee"/>
<rect x="1140.60" y="238.80" width="3.00" height="27.50" fill="#6db418" />
<circle cx="1140.4" cy="239.4" r="1.4" fill="#f4f8ee"/>
<rect x="1098.00" y="262.80" width="3.00" height="27.50" fill="#6db418" />
<circle cx="1097.8" cy="263.4" r="1.4" fill="#f4f8ee"/>
<rect x="1127.80" y="286.90" width="3.00" height="19.70" fill="#6db418" />
<circle cx="1127.6" cy="287.5" r="1.4" fill="#f4f8ee"/>
</g>
<clipPath id="cp4"><rect x="1168.1" y="174.1" width="82.0" height="132.5"/></clipPath>
<g clip-path="url(#cp4)"><g filter="url(#mott)">
<rect x="1168.10" y="174.10" width="82.00" height="132.50" fill="#2f2c2a" />
<rect x="1236.00" y="174.10" width="14.10" height="132.50" fill="#47302a" />
<rect x="1217.5" y="178.7" width="2.3" height="1.4" fill="#1c1b1a"/><rect x="1229.7" y="184.3" width="1.0" height="2.4" fill="#1c1b1a"/><rect x="1231.7" y="184.0" width="1.7" height="1.8" fill="#55524e"/><rect x="1223.1" y="175.3" width="2.6" height="1.6" fill="#55524e"/><rect x="1177.2" y="174.5" width="2.5" height="2.5" fill="#55524e"/><rect x="1180.9" y="177.7" width="2.3" height="1.5" fill="#55524e"/><rect x="1182.0" y="183.7" width="2.5" height="1.1" fill="#55524e"/><rect x="1194.9" y="175.0" width="1.8" height="2.5" fill="#1c1b1a"/><rect x="1192.8" y="180.7" width="1.8" height="1.8" fill="#121212"/><rect x="1181.6" y="176.3" width="1.6" height="2.6" fill="#55524e"/><rect x="1244.3" y="180.9" width="1.9" height="2.3" fill="#121212"/><rect x="1217.0" y="175.3" width="2.2" height="1.8" fill="#121212"/><rect x="1224.4" y="177.7" width="1.4" height="1.0" fill="#1c1b1a"/><rect x="1238.9" y="180.2" width="2.5" height="2.1" fill="#1c1b1a"/><rect x="1225.5" y="176.5" width="2.6" height="1.3" fill="#121212"/><rect x="1248.6" y="177.6" width="2.1" height="1.3" fill="#55524e"/><rect x="1226.2" y="175.6" width="2.3" height="1.5" fill="#121212"/><rect x="1200.6" y="179.1" width="2.1" height="1.5" fill="#1c1b1a"/>
<rect x="1241.8" y="265.0" width="1.8" height="1.9" fill="#121212"/><rect x="1235.1" y="280.4" width="2.3" height="1.1" fill="#1c1b1a"/><rect x="1238.4" y="303.9" width="2.0" height="2.4" fill="#1c1b1a"/><rect x="1237.5" y="236.3" width="1.8" height="1.6" fill="#121212"/><rect x="1238.2" y="199.9" width="2.5" height="1.8" fill="#121212"/><rect x="1238.7" y="208.7" width="2.5" height="2.1" fill="#5a5652"/><rect x="1234.2" y="273.9" width="1.6" height="1.2" fill="#121212"/><rect x="1239.7" y="277.9" width="1.6" height="1.2" fill="#1c1b1a"/><rect x="1234.9" y="266.2" width="2.1" height="1.4" fill="#1c1b1a"/><rect x="1233.9" y="248.1" width="1.3" height="2.0" fill="#121212"/><rect x="1235.1" y="273.9" width="1.7" height="1.9" fill="#5a5652"/><rect x="1234.0" y="202.0" width="1.8" height="1.6" fill="#121212"/><rect x="1238.4" y="245.8" width="2.0" height="2.0" fill="#5a5652"/><rect x="1238.7" y="201.3" width="1.1" height="2.2" fill="#5a5652"/><rect x="1234.5" y="228.7" width="2.1" height="2.0" fill="#5a5652"/><rect x="1236.8" y="212.6" width="2.3" height="1.8" fill="#121212"/><rect x="1241.7" y="199.6" width="2.2" height="2.5" fill="#121212"/><rect x="1240.7" y="291.9" width="1.3" height="2.3" fill="#121212"/><rect x="1237.0" y="201.9" width="1.5" height="2.4" fill="#5a5652"/><rect x="1241.9" y="226.2" width="1.6" height="1.2" fill="#121212"/><rect x="1233.7" y="266.7" width="1.8" height="1.1" fill="#5a5652"/><rect x="1236.9" y="286.6" width="1.6" height="2.0" fill="#1c1b1a"/>
<rect x="1248.6" y="298.0" width="2.4" height="2.4" fill="#121212"/><rect x="1193.4" y="296.4" width="1.7" height="2.3" fill="#55524e"/><rect x="1186.0" y="302.5" width="2.5" height="1.9" fill="#1c1b1a"/><rect x="1169.0" y="300.7" width="1.3" height="2.3" fill="#121212"/><rect x="1198.7" y="298.7" width="1.8" height="1.1" fill="#121212"/><rect x="1174.4" y="305.2" width="1.3" height="2.3" fill="#1c1b1a"/><rect x="1232.7" y="302.1" width="2.0" height="1.9" fill="#1c1b1a"/><rect x="1235.5" y="301.0" width="2.4" height="2.4" fill="#121212"/><rect x="1241.3" y="302.5" width="2.4" height="2.1" fill="#55524e"/><rect x="1196.8" y="296.4" width="1.2" height="1.3" fill="#55524e"/><rect x="1190.2" y="299.9" width="2.5" height="1.7" fill="#1c1b1a"/><rect x="1187.3" y="298.0" width="2.5" height="2.4" fill="#1c1b1a"/><rect x="1227.8" y="300.1" width="1.8" height="2.1" fill="#55524e"/><rect x="1244.4" y="301.1" width="1.0" height="1.0" fill="#121212"/><rect x="1203.1" y="305.5" width="1.2" height="2.5" fill="#55524e"/><rect x="1182.3" y="301.7" width="2.1" height="1.4" fill="#1c1b1a"/><rect x="1197.7" y="304.9" width="2.6" height="2.1" fill="#1c1b1a"/><rect x="1230.6" y="303.7" width="1.8" height="2.3" fill="#1c1b1a"/>
</g><g filter="url(#fine)">
<rect x="1172.00" y="185.60" width="61.20" height="110.50" fill="#2b3131" />
</g><clipPath id="cp4b"><rect x="1172" y="185.6" width="61.2" height="110.5"/></clipPath><g clip-path="url(#cp4b)">
<ellipse cx="1208" cy="214" rx="24" ry="9" fill="#66706f" opacity="0.45" filter="url(#band)"/>
<ellipse cx="1203" cy="275" rx="30" ry="9" fill="#6c7776" opacity="0.55" filter="url(#band)"/>
</g>
<polyline points="1180.5,187.0 1180.5,295.0" fill="none" stroke="#141a2c" stroke-width="0.7" stroke-dasharray="3 2" opacity="0.8"/>
<polyline points="1203.0,187.0 1203.0,295.0" fill="none" stroke="#141a2c" stroke-width="0.7" stroke-dasharray="3 2" opacity="0.8"/>
<polyline points="1219.5,187.0 1219.5,295.0" fill="none" stroke="#141a2c" stroke-width="0.7" stroke-dasharray="3 2" opacity="0.8"/>
<rect x="1172.00" y="185.60" width="61.20" height="110.50" fill="none" stroke="#8c2494" stroke-width="0.8" />
<rect x="1233.20" y="185.60" width="2.90" height="20.50" fill="#c436c8" />
<rect x="1184.10" y="192.90" width="3.20" height="26.40" fill="#6db418" />
<circle cx="1183.8" cy="193.5" r="1.4" fill="#f4f8ee"/>
<rect x="1225.90" y="274.30" width="3.20" height="25.20" fill="#6db418" />
<circle cx="1225.6" cy="274.9" r="1.4" fill="#f4f8ee"/>
<rect x="1185.30" y="286.90" width="3.20" height="19.70" fill="#6db418" />
<circle cx="1185.0" cy="287.5" r="1.4" fill="#f4f8ee"/>
</g>
<defs><marker id="ahg" viewBox="0 0 10 10" refX="9" refY="5" markerWidth="4.4" markerHeight="4.4" markerUnits="userSpaceOnUse" orient="auto"><path d="M0 0.5 L10 5 L0 9.5 z" fill="#222"/></marker><marker id="ahr" viewBox="0 0 10 10" refX="9" refY="5" markerWidth="5.4" markerHeight="4.8" markerUnits="userSpaceOnUse" orient="auto-start-reverse"><path d="M0 0.5 L10 5 L0 9.5 z" fill="#ee1c24"/></marker></defs>
<polygon points="73.5,491.4 215.8,446.6 425.4,518.2 281.8,563.8" fill="#b3b3b3" />
<polygon points="73.5,491.4 281.8,563.8 425.4,518.2 425.4,519.4 281.8,565.2 73.5,492.8" fill="#1e1e1e" />
<polygon points="110.3,475.4 172.9,456.5 377.4,529.4 319.8,547.3" fill="#4cb7f8" />
<polygon points="110.3,475.4 319.8,547.3 377.4,529.4 377.4,533.6 319.8,551.9 110.3,479.9" fill="#1c5f92" />
<polygon points="110.3,475.4 319.8,547.3 319.8,551.9 110.3,479.9" fill="#15507c" />
<ellipse cx="125.5" cy="477.1" rx="2.5" ry="1.3" fill="#2fc4e6"/>
<ellipse cx="125.0" cy="472.2" rx="3.8" ry="4.6" fill="#2b2f34"/>
<ellipse cx="126.0" cy="472.1" rx="2" ry="3" fill="#636970"/>
<ellipse cx="126.2" cy="472.2" rx="0.9" ry="1.5" fill="#2b2f34"/>
<ellipse cx="175.3" cy="460.7" rx="2.5" ry="1.3" fill="#2fc4e6"/>
<ellipse cx="174.8" cy="455.8" rx="3.8" ry="4.6" fill="#2b2f34"/>
<ellipse cx="175.8" cy="455.7" rx="2" ry="3" fill="#636970"/>
<ellipse cx="176.0" cy="455.8" rx="0.9" ry="1.5" fill="#2b2f34"/>
<ellipse cx="159.9" cy="487.7" rx="2.5" ry="1.3" fill="#2fc4e6"/>
<ellipse cx="159.4" cy="482.8" rx="3.8" ry="4.6" fill="#2b2f34"/>
<ellipse cx="160.4" cy="482.7" rx="2" ry="3" fill="#636970"/>
<ellipse cx="160.6" cy="482.8" rx="0.9" ry="1.5" fill="#2b2f34"/>
<ellipse cx="191.2" cy="499.4" rx="2.5" ry="1.3" fill="#2fc4e6"/>
<ellipse cx="190.7" cy="494.5" rx="3.8" ry="4.6" fill="#2b2f34"/>
<ellipse cx="191.7" cy="494.4" rx="2" ry="3" fill="#636970"/>
<ellipse cx="191.9" cy="494.5" rx="0.9" ry="1.5" fill="#2b2f34"/>
<ellipse cx="219.9" cy="509.1" rx="2.5" ry="1.3" fill="#2fc4e6"/>
<ellipse cx="219.4" cy="504.2" rx="3.8" ry="4.6" fill="#2b2f34"/>
<ellipse cx="220.4" cy="504.1" rx="2" ry="3" fill="#636970"/>
<ellipse cx="220.6" cy="504.2" rx="0.9" ry="1.5" fill="#2b2f34"/>
<ellipse cx="249.5" cy="519.9" rx="2.5" ry="1.3" fill="#2fc4e6"/>
<ellipse cx="249.0" cy="515.0" rx="3.8" ry="4.6" fill="#2b2f34"/>
<ellipse cx="250.0" cy="514.9" rx="2" ry="3" fill="#636970"/>
<ellipse cx="250.2" cy="515.0" rx="0.9" ry="1.5" fill="#2b2f34"/>
<ellipse cx="278.1" cy="529.7" rx="2.5" ry="1.3" fill="#2fc4e6"/>
<ellipse cx="277.6" cy="524.8" rx="3.8" ry="4.6" fill="#2b2f34"/>
<ellipse cx="278.6" cy="524.7" rx="2" ry="3" fill="#636970"/>
<ellipse cx="278.8" cy="524.8" rx="0.9" ry="1.5" fill="#2b2f34"/>
<ellipse cx="306.7" cy="539.4" rx="2.5" ry="1.3" fill="#2fc4e6"/>
<ellipse cx="306.2" cy="534.5" rx="3.8" ry="4.6" fill="#2b2f34"/>
<ellipse cx="307.2" cy="534.4" rx="2" ry="3" fill="#636970"/>
<ellipse cx="307.4" cy="534.5" rx="0.9" ry="1.5" fill="#2b2f34"/>
<ellipse cx="329.1" cy="516.0" rx="2.5" ry="1.3" fill="#2fc4e6"/>
<ellipse cx="328.6" cy="511.1" rx="3.8" ry="4.6" fill="#2b2f34"/>
<ellipse cx="329.6" cy="511.0" rx="2" ry="3" fill="#636970"/>
<ellipse cx="329.8" cy="511.1" rx="0.9" ry="1.5" fill="#2b2f34"/>
<ellipse cx="357.1" cy="522.8" rx="2.5" ry="1.3" fill="#2fc4e6"/>
<ellipse cx="356.6" cy="517.9" rx="3.8" ry="4.6" fill="#2b2f34"/>
<ellipse cx="357.6" cy="517.8" rx="2" ry="3" fill="#636970"/>
<ellipse cx="357.8" cy="517.9" rx="0.9" ry="1.5" fill="#2b2f34"/>
<polygon points="154.5,477.1 203.6,460.6 334.5,504.8 285.4,521.3" fill="#8fb4a8" />
<polygon points="154.5,477.1 285.4,521.3 334.5,504.8 334.5,506.6 285.4,523.2 154.5,479.0" fill="#4f6a62" />
<polyline points="283.6,376.4 283.6,487.5" fill="none" stroke="#b8204a" stroke-width="2.0" />
<polyline points="274.9,484.2 283.6,467.4 292.6,489.1" fill="none" stroke="#a31a3c" stroke-width="1.7" stroke-linejoin="round"/>
<polygon points="200.5,485.8 252.0,503.0 288.0,493.2 288.0,495.5 252.0,505.5 200.5,488.0" fill="#1f63c8" />
<polygon points="200.5,485.8 236.5,474.4 288.0,493.2 252.0,503.0" fill="#e3e3e3" stroke="#1c3f86" stroke-width="0.9" />
<polyline points="206.9,487.9 242.9,476.8" fill="none" stroke="#444" stroke-width="0.45" />
<polyline points="213.4,490.1 249.4,479.1" fill="none" stroke="#444" stroke-width="0.45" />
<polyline points="219.8,492.2 255.8,481.4" fill="none" stroke="#444" stroke-width="0.45" />
<polyline points="226.2,494.4 262.2,483.8" fill="none" stroke="#444" stroke-width="0.45" />
<polyline points="232.7,496.6 268.7,486.1" fill="none" stroke="#444" stroke-width="0.45" />
<polyline points="239.1,498.7 275.1,488.5" fill="none" stroke="#444" stroke-width="0.45" />
<polyline points="245.6,500.9 281.6,490.8" fill="none" stroke="#444" stroke-width="0.45" />
<polyline points="207.7,483.5 259.2,501.0" fill="none" stroke="#444" stroke-width="0.45" />
<polyline points="214.9,481.2 266.4,499.1" fill="none" stroke="#444" stroke-width="0.45" />
<polyline points="222.1,479.0 273.6,497.1" fill="none" stroke="#444" stroke-width="0.45" />
<polyline points="229.3,476.7 280.8,495.2" fill="none" stroke="#444" stroke-width="0.45" />
<ellipse cx="214.1" cy="485.7" rx="1.15" ry="0.8" fill="#1d1d1d"/><ellipse cx="221.3" cy="483.5" rx="1.15" ry="0.8" fill="#1d1d1d"/><ellipse cx="228.5" cy="481.2" rx="1.15" ry="0.8" fill="#1d1d1d"/><ellipse cx="235.7" cy="479.0" rx="1.15" ry="0.8" fill="#1d1d1d"/><ellipse cx="220.6" cy="487.9" rx="1.15" ry="0.8" fill="#1d1d1d"/><ellipse cx="227.8" cy="485.7" rx="1.15" ry="0.8" fill="#1d1d1d"/><ellipse cx="235.0" cy="483.5" rx="1.15" ry="0.8" fill="#1d1d1d"/><ellipse cx="242.2" cy="481.3" rx="1.15" ry="0.8" fill="#1d1d1d"/><ellipse cx="227.0" cy="490.1" rx="1.15" ry="0.8" fill="#1d1d1d"/><ellipse cx="234.2" cy="487.9" rx="1.15" ry="0.8" fill="#1d1d1d"/><ellipse cx="241.4" cy="485.8" rx="1.15" ry="0.8" fill="#1d1d1d"/><ellipse cx="248.6" cy="483.6" rx="1.15" ry="0.8" fill="#1d1d1d"/><ellipse cx="233.4" cy="492.3" rx="1.15" ry="0.8" fill="#1d1d1d"/><ellipse cx="240.7" cy="490.2" rx="1.15" ry="0.8" fill="#1d1d1d"/><ellipse cx="247.8" cy="488.0" rx="1.15" ry="0.8" fill="#1d1d1d"/><ellipse cx="255.1" cy="485.9" rx="1.15" ry="0.8" fill="#1d1d1d"/><ellipse cx="239.9" cy="494.5" rx="1.15" ry="0.8" fill="#1d1d1d"/><ellipse cx="247.1" cy="492.4" rx="1.15" ry="0.8" fill="#1d1d1d"/><ellipse cx="254.3" cy="490.3" rx="1.15" ry="0.8" fill="#1d1d1d"/><ellipse cx="261.5" cy="488.2" rx="1.15" ry="0.8" fill="#1d1d1d"/><ellipse cx="246.3" cy="496.7" rx="1.15" ry="0.8" fill="#1d1d1d"/><ellipse cx="253.5" cy="494.6" rx="1.15" ry="0.8" fill="#1d1d1d"/><ellipse cx="260.7" cy="492.6" rx="1.15" ry="0.8" fill="#1d1d1d"/><ellipse cx="267.9" cy="490.5" rx="1.15" ry="0.8" fill="#1d1d1d"/><ellipse cx="252.8" cy="498.9" rx="1.15" ry="0.8" fill="#1d1d1d"/><ellipse cx="260.0" cy="496.9" rx="1.15" ry="0.8" fill="#1d1d1d"/><ellipse cx="267.2" cy="494.8" rx="1.15" ry="0.8" fill="#1d1d1d"/><ellipse cx="274.4" cy="492.8" rx="1.15" ry="0.8" fill="#1d1d1d"/>
<polyline points="200.5,485.8 201.3,483.6" fill="none" stroke="#333" stroke-width="0.4" />
<polyline points="203.8,484.8 204.6,482.6" fill="none" stroke="#333" stroke-width="0.4" />
<polyline points="207.0,483.7 207.8,481.5" fill="none" stroke="#333" stroke-width="0.4" />
<polyline points="210.3,482.7 211.1,480.5" fill="none" stroke="#333" stroke-width="0.4" />
<polyline points="213.6,481.7 214.4,479.5" fill="none" stroke="#333" stroke-width="0.4" />
<polyline points="216.9,480.6 217.7,478.4" fill="none" stroke="#333" stroke-width="0.4" />
<polyline points="220.1,479.6 220.9,477.4" fill="none" stroke="#333" stroke-width="0.4" />
<polyline points="223.4,478.5 224.2,476.3" fill="none" stroke="#333" stroke-width="0.4" />
<polyline points="226.7,477.5 227.5,475.3" fill="none" stroke="#333" stroke-width="0.4" />
<polyline points="230.0,476.5 230.8,474.3" fill="none" stroke="#333" stroke-width="0.4" />
<polyline points="233.2,475.4 234.0,473.2" fill="none" stroke="#333" stroke-width="0.4" />
<polyline points="236.5,474.4 237.3,472.2" fill="none" stroke="#333" stroke-width="0.4" />
<line x1="199.5" y1="490.8" x2="248.6" y2="506.4" stroke="#ee1c24" stroke-width="1.4" marker-start="url(#ahr)" marker-end="url(#ahr)"/>
<line x1="257" y1="507.1" x2="292.8" y2="495.7" stroke="#ee1c24" stroke-width="1.4" marker-start="url(#ahr)" marker-end="url(#ahr)"/>
<text x="216.6" y="504.6" class="ser" font-size="7.5" font-style="italic" font-weight="bold" fill="#ee1c24">L</text>
<text x="276.4" y="508" class="ser" font-size="7.5" font-style="italic" font-weight="bold" fill="#ee1c24">W</text>
<text x="247.7" y="445.6" class="ser" font-size="7.5" font-style="italic" font-weight="bold" fill="#ee1c24">D</text>
<line x1="245" y1="401" x2="245" y2="488.4" stroke="#f01c24" stroke-width="1.3" marker-end="url(#ahr)"/>
<polygon points="243.3,403.5 246.7,403.5 245.0,400.0" fill="#ee1c24" />
<polyline points="283.6,376.3 300.2,371.2 300.2,472.8 343.0,484.6" fill="none" stroke="#111" stroke-width="0.8" />
<polyline points="204.8,401.0 283.8,376.3" fill="none" stroke="#b8204a" stroke-width="2.4" />
<polyline points="204.8,400.4 204.8,519.5" fill="none" stroke="#b8204a" stroke-width="2.0" />
<polyline points="204.8,492.4 193.9,515.3 216.8,522.7 204.8,492.4" fill="none" stroke="#a31a3c" stroke-width="1.6" stroke-linejoin="round"/>
<ellipse cx="222.7" cy="398.3" rx="3" ry="1.5" fill="#e9e2c4" stroke="#9a9580" stroke-width="0.4"/>
<ellipse cx="265.4" cy="385.3" rx="3" ry="1.5" fill="#e9e2c4" stroke="#9a9580" stroke-width="0.4"/>
<rect x="242.60" y="391.40" width="4.80" height="8.80" fill="#0b0b0b" />
<rect x="240.80" y="393.60" width="2.00" height="3.40" fill="#0b0b0b" />
<polygon points="243.0,388.2 247.0,388.2 245.0,391.4" fill="#0b0b0b" />
<polygon points="342.8,484.2 355.6,480.4 366.8,483.9 354.0,488.0" fill="#1c1c1c" />
<polygon points="342.8,484.2 354.0,488.0 354.0,510.6 342.8,506.4" fill="#0b0b0b" />
<polygon points="354.0,488.0 366.8,483.9 366.8,505.6 354.0,510.6" fill="#232323" />
<rect x="178.50" y="333.30" width="43.40" height="47.90" fill="#fff" stroke="#555" stroke-width="1.05" stroke-dasharray="3.6 2"/>
<clipPath id="ci1"><rect x="182.1" y="336.6" width="36.2" height="33.1"/></clipPath><g clip-path="url(#ci1)" filter="url(#soft)">
<rect x="182.10" y="336.60" width="36.20" height="33.10" fill="#c9ccd0" />
<rect x="182.10" y="336.60" width="36.20" height="5.50" fill="#2d2f33" />
<rect x="206.00" y="341.00" width="12.40" height="24.00" fill="#e9ebee" />
<rect x="209.00" y="346.00" width="9.00" height="4.00" fill="#5b8bd0" />
<rect x="212.00" y="352.00" width="6.30" height="9.00" fill="#f6f6f6" />
<polygon points="182.1,344.0 188.0,342.0 192.0,350.0 190.0,369.7 182.1,369.7" fill="#2456b4" />
<rect x="182.10" y="364.00" width="36.20" height="5.70" fill="#3a6ab8" />
<rect x="193.00" y="338.00" width="13.00" height="6.00" fill="#1e1f22" />
<ellipse cx="199.6" cy="346.5" rx="8.6" ry="2.6" fill="#2a2b2e"/>
<rect x="191.00" y="346.50" width="17.20" height="14.00" fill="#8e9298" />
<ellipse cx="199.6" cy="360.5" rx="8.6" ry="2.6" fill="#6c7076"/>
<rect x="192.50" y="349.00" width="14.00" height="1.10" fill="#5e6268" />
<rect x="192.50" y="353.00" width="14.00" height="1.10" fill="#b9bcc2" />
<rect x="194.00" y="362.00" width="12.00" height="5.00" fill="#2b2c30" />
</g>
<text x="186.8" y="379.4" class="cser" font-size="7.4" fill="#3a3a3a" textLength="29.6" lengthAdjust="spacingAndGlyphs">三维云台</text>
<rect x="119.10" y="377.30" width="48.90" height="54.30" fill="#fff" stroke="#555" stroke-width="1.05" stroke-dasharray="3.6 2"/>
<g filter="url(#soft)">
<rect x="122.00" y="380.00" width="43.60" height="37.40" fill="#efefef" />
<polygon points="126.5,391.5 140.0,385.2 161.5,388.6 161.5,403.0 146.5,411.2 126.5,406.6" fill="#3a3b3d" />
<polygon points="126.5,391.5 140.0,385.2 161.5,388.6 147.0,394.2" fill="#57585b" />
<polygon points="147.0,394.2 161.5,388.6 161.5,403.0 146.5,411.2" fill="#2a2b2d" />
<ellipse cx="134.6" cy="399.6" rx="6.6" ry="7.6" fill="#1b1c1e"/><ellipse cx="134.9" cy="399.8" rx="4.2" ry="5" fill="#41504c"/><ellipse cx="135.2" cy="399.5" rx="2.3" ry="3" fill="#76857f"/>
<polyline points="149.5,399.8 159.5,395.2" fill="none" stroke="#d8d8d8" stroke-width="0.9" />
</g>
<text x="130" y="428.2" class="cser" font-size="7.4" fill="#3a3a3a" textLength="29.6" lengthAdjust="spacingAndGlyphs">工业相机</text>
<rect x="58.20" y="419.20" width="48.80" height="59.80" fill="#fff" stroke="#555" stroke-width="1.05" stroke-dasharray="3.6 2"/>
<clipPath id="ci3"><rect x="62" y="421.9" width="42.5" height="47.2"/></clipPath><g clip-path="url(#ci3)" filter="url(#soft)">
<rect x="62.00" y="421.90" width="42.50" height="47.20" fill="#8a8f92" />
<polyline points="58.0,421.9 70.0,456.0" fill="none" stroke="#d6dadc" stroke-width="2.2" opacity="0.8"/>
<polyline points="64.5,421.9 77.5,453.8" fill="none" stroke="#d6dadc" stroke-width="2.2" opacity="0.8"/>
<polyline points="71.0,421.9 85.0,451.6" fill="none" stroke="#d6dadc" stroke-width="2.2" opacity="0.8"/>
<polyline points="77.5,421.9 92.5,449.4" fill="none" stroke="#d6dadc" stroke-width="2.2" opacity="0.8"/>
<polyline points="84.0,421.9 100.0,447.2" fill="none" stroke="#d6dadc" stroke-width="2.2" opacity="0.8"/>
<polyline points="90.5,421.9 107.5,445.0" fill="none" stroke="#d6dadc" stroke-width="2.2" opacity="0.8"/>
<polyline points="97.0,421.9 115.0,442.8" fill="none" stroke="#d6dadc" stroke-width="2.2" opacity="0.8"/>
<polyline points="103.5,421.9 122.5,440.6" fill="none" stroke="#d6dadc" stroke-width="2.2" opacity="0.8"/>
<polyline points="110.0,421.9 130.0,438.4" fill="none" stroke="#d6dadc" stroke-width="2.2" opacity="0.8"/>
<polyline points="61.0,421.9 73.5,456.0" fill="none" stroke="#3f4448" stroke-width="1.1" />
<polyline points="67.5,421.9 81.0,453.8" fill="none" stroke="#3f4448" stroke-width="1.1" />
<polyline points="74.0,421.9 88.5,451.6" fill="none" stroke="#3f4448" stroke-width="1.1" />
<polyline points="80.5,421.9 96.0,449.4" fill="none" stroke="#3f4448" stroke-width="1.1" />
<polyline points="87.0,421.9 103.5,447.2" fill="none" stroke="#3f4448" stroke-width="1.1" />
<polyline points="93.5,421.9 111.0,445.0" fill="none" stroke="#3f4448" stroke-width="1.1" />
<polyline points="100.0,421.9 118.5,442.8" fill="none" stroke="#3f4448" stroke-width="1.1" />
<polyline points="106.5,421.9 126.0,440.6" fill="none" stroke="#3f4448" stroke-width="1.1" />
<polyline points="113.0,421.9 133.5,438.4" fill="none" stroke="#3f4448" stroke-width="1.1" />
<polyline points="62.0,428.0 104.5,423.0" fill="none" stroke="#4a4f54" stroke-width="0.8" />
<polyline points="62.0,433.6 104.5,427.4" fill="none" stroke="#4a4f54" stroke-width="0.8" />
<polyline points="62.0,439.2 104.5,431.8" fill="none" stroke="#4a4f54" stroke-width="0.8" />
<polyline points="62.0,444.8 104.5,436.2" fill="none" stroke="#4a4f54" stroke-width="0.8" />
<polyline points="62.0,450.4 104.5,440.6" fill="none" stroke="#4a4f54" stroke-width="0.8" />
<polyline points="62.0,456.0 104.5,445.0" fill="none" stroke="#4a4f54" stroke-width="0.8" />
<polygon points="62.0,422.0 68.0,422.0 104.5,447.0 104.5,453.0 62.0,427.0" fill="#393e43" />
<polygon points="62.0,452.0 98.0,462.0 104.5,458.0 104.5,469.1 62.0,469.1" fill="#2e3438" />
<rect x="66.00" y="455.80" width="1.60" height="14.00" fill="#9aa2a6" />
<rect x="71.50" y="456.90" width="1.60" height="14.00" fill="#9aa2a6" />
<rect x="77.00" y="458.00" width="1.60" height="14.00" fill="#9aa2a6" />
<rect x="82.50" y="459.10" width="1.60" height="14.00" fill="#9aa2a6" />
<rect x="88.00" y="460.20" width="1.60" height="14.00" fill="#9aa2a6" />
<polyline points="62.3,449.0 92.0,461.0" fill="none" stroke="#8c4a3c" stroke-width="1.2" />
<polyline points="62.0,457.0 94.0,466.0" fill="none" stroke="#b9bfc2" stroke-width="1.0" />
<polygon points="93.2,441.0 95.6,440.4 102.0,469.1 98.6,469.1" fill="#5e3f30" />
<polygon points="64.0,455.0 66.0,455.0 63.4,469.1 62.0,469.1" fill="#6b4a3a" />
<circle cx="77.5" cy="426.5" r="1.5" fill="#ffffff"/>
<circle cx="66.5" cy="434.3" r="1.5" fill="#ffffff"/>
<circle cx="87.4" cy="436.9" r="1.5" fill="#ffffff"/>
<circle cx="100.0" cy="431.7" r="1.5" fill="#ffffff"/>
<circle cx="77.5" cy="441.7" r="1.5" fill="#ffffff"/>
<circle cx="70.1" cy="445.3" r="1.5" fill="#ffffff"/>
<circle cx="84.8" cy="446.9" r="1.5" fill="#ffffff"/>
<circle cx="78.5" cy="449.5" r="1.5" fill="#ffffff"/>
</g>
<text x="76.7" y="476.9" class="cser" font-size="7.4" fill="#3a3a3a" textLength="14.8" lengthAdjust="spacingAndGlyphs">支架</text>
<rect x="71.60" y="516.40" width="58.00" height="47.70" fill="#fff" stroke="#555" stroke-width="1.05" stroke-dasharray="3.6 2"/>
<clipPath id="ci4"><rect x="75.2" y="519.2" width="51.2" height="33.6"/></clipPath><g clip-path="url(#ci4)" filter="url(#soft)">
<rect x="75.20" y="519.20" width="51.20" height="33.60" fill="#9fa4a8" />
<rect x="75.20" y="519.20" width="51.20" height="9.00" fill="#5d666c" />
<rect x="112.00" y="519.20" width="14.40" height="12.00" fill="#b9c2cb" />
<rect x="75.20" y="519.20" width="2.00" height="30.00" fill="#23262a" />
<rect x="84.00" y="519.20" width="1.60" height="9.00" fill="#2c3034" />
<rect x="92.00" y="519.20" width="1.60" height="9.00" fill="#2c3034" />
<rect x="99.00" y="519.20" width="1.60" height="9.00" fill="#2c3034" />
<rect x="106.00" y="519.20" width="1.60" height="9.00" fill="#2c3034" />
<rect x="113.00" y="519.20" width="1.60" height="9.00" fill="#2c3034" />
<polygon points="78.0,533.0 106.0,522.6 112.0,523.6 79.0,537.4" fill="#2f8a58" />
<rect x="77.40" y="533.00" width="3.00" height="7.00" fill="#e3e5e4" />
<polygon points="75.2,541.0 99.0,545.0 126.4,530.0 126.4,552.8 75.2,552.8" fill="#a7abae" />
<polygon points="108.0,552.8 126.4,538.0 126.4,552.8" fill="#e0e1e1" />
<polyline points="100.0,552.8 126.4,534.6" fill="none" stroke="#d7b545" stroke-width="1.3" />
<polygon points="78.1,539.5 104.7,527.6 124.9,529.0 99.7,542.7" fill="#3b3b3d" />
<polygon points="77.6,539.6 99.7,542.7 99.9,545.2 77.8,541.7" fill="#f0b414" />
<polygon points="99.7,542.7 124.9,529.0 125.3,531.2 100.0,545.4" fill="#f5c018" />
<rect x="84.00" y="543.00" width="1.70" height="3.20" fill="#2847a0" />
<rect x="95.20" y="545.60" width="1.70" height="3.20" fill="#2847a0" />
<rect x="101.80" y="545.20" width="1.70" height="3.20" fill="#2847a0" />
<rect x="107.00" y="542.40" width="1.70" height="3.20" fill="#2847a0" />
<rect x="112.60" y="539.40" width="1.70" height="3.20" fill="#2847a0" />
<rect x="118.00" y="536.40" width="1.70" height="3.20" fill="#2847a0" />
<rect x="75.20" y="550.40" width="6.00" height="2.40" fill="#c9362c" />
<rect x="75.20" y="519.20" width="6.00" height="1.60" fill="#b94a3c" />
</g>
<text x="94.3" y="562" class="cser" font-size="7.4" fill="#3a3a3a" textLength="14.8" lengthAdjust="spacingAndGlyphs">模台</text>
<rect x="304.50" y="332.20" width="41.30" height="48.10" fill="#fff" stroke="#555" stroke-width="1.05" stroke-dasharray="3.6 2"/>
<g filter="url(#soft)">
<defs><linearGradient id="lampg" x1="0" y1="0" x2="1" y2="0"><stop offset="0" stop-color="#6c737b"/><stop offset="0.35" stop-color="#b6bcc3"/><stop offset="0.6" stop-color="#8b929a"/><stop offset="1" stop-color="#5e656d"/></linearGradient></defs>
<path d="M321.5 341.5 q3.5 -4.5 7 0" fill="none" stroke="#777" stroke-width="0.8"/>
<rect x="319.20" y="341.40" width="11.40" height="6.40" fill="#4a4e54" rx="1.2"/>
<rect x="319.20" y="343.20" width="11.40" height="1.00" fill="#9a9ea4" />
<polygon points="319.6,347.6 330.2,347.6 339.2,360.2 310.4,360.2" fill="url(#lampg)" />
<ellipse cx="324.8" cy="360.2" rx="14.4" ry="3.4" fill="#7a8189"/><ellipse cx="324.8" cy="360.6" rx="11.5" ry="2.2" fill="#9aa1a8"/>
</g>
<text x="317.9" y="377.4" class="cser" font-size="7.4" fill="#3a3a3a" textLength="14.8" lengthAdjust="spacingAndGlyphs">光源</text>
<rect x="323.50" y="410.60" width="53.00" height="53.80" fill="#fff" stroke="#555" stroke-width="1.05" stroke-dasharray="3.6 2"/>
<clipPath id="ci6"><rect x="326.7" y="413.5" width="46.6" height="38.3"/></clipPath><g clip-path="url(#ci6)" filter="url(#soft)">
<rect x="326.70" y="413.50" width="46.60" height="38.30" fill="#6f7680" />
<rect x="327.60" y="415.40" width="44.80" height="35.20" fill="#9b9d9f" />
<rect x="327.60" y="414.20" width="44.80" height="1.60" fill="#59c6c8" />
<rect x="350.50" y="415.40" width="4.40" height="35.20" fill="#c8c6c2" />
<rect x="366.50" y="415.40" width="4.00" height="35.20" fill="#c9b1aa" />
<rect x="370.20" y="415.40" width="2.40" height="35.20" fill="#e8564a" />
<rect x="327.60" y="417.50" width="5.40" height="1.70" fill="#e2581c" />
<rect x="327.60" y="420.50" width="5.40" height="1.70" fill="#e2581c" />
<rect x="327.60" y="423.50" width="5.40" height="1.70" fill="#e2581c" />
<rect x="327.60" y="426.50" width="5.40" height="1.70" fill="#e2581c" />
<rect x="327.60" y="429.50" width="5.40" height="1.70" fill="#e2581c" />
<rect x="327.60" y="433.00" width="5.40" height="1.70" fill="#e2581c" />
<rect x="327.60" y="437.00" width="5.40" height="1.70" fill="#e2581c" />
<rect x="327.60" y="440.50" width="5.40" height="1.70" fill="#e2581c" />
<rect x="327.60" y="444.00" width="5.40" height="1.70" fill="#e2581c" />
<rect x="327.60" y="447.50" width="5.40" height="1.70" fill="#e2581c" />
<rect x="344.00" y="417.80" width="6.00" height="1.60" fill="#78c81e" />
<rect x="333.50" y="427.20" width="6.00" height="1.60" fill="#78c81e" />
<rect x="345.50" y="436.60" width="6.00" height="1.60" fill="#78c81e" />
<rect x="358.50" y="426.60" width="6.00" height="1.60" fill="#78c81e" />
<polyline points="337.0,416.0 337.0,450.0" fill="none" stroke="#7d8086" stroke-width="0.5" />
<polyline points="343.0,416.0 343.0,450.0" fill="none" stroke="#7d8086" stroke-width="0.5" />
<polyline points="359.0,416.0 359.0,450.0" fill="none" stroke="#7d8086" stroke-width="0.5" />
<polyline points="363.0,416.0 363.0,450.0" fill="none" stroke="#7d8086" stroke-width="0.5" />
<rect x="326.70" y="450.40" width="46.60" height="1.40" fill="#44484e" />
</g>
<text x="328.2" y="461.6" class="cser" font-size="7.5" fill="#3a3a3a" textLength="45" lengthAdjust="spacingAndGlyphs">图像检测终端</text>
<rect x="358.30" y="540.90" width="49.80" height="49.90" fill="#fff" stroke="#555" stroke-width="1.05" stroke-dasharray="3.6 2"/>
<clipPath id="ci7"><rect x="361.9" y="543.7" width="42.2" height="34.2"/></clipPath><g clip-path="url(#ci7)" filter="url(#soft)">
<rect x="361.90" y="543.70" width="42.20" height="34.20" fill="#c4b99c" />
<rect x="361.90" y="543.70" width="42.20" height="3.60" fill="#b9a84e" />
<rect x="380.00" y="547.30" width="24.10" height="9.00" fill="#cbbd94" />
<rect x="361.90" y="556.00" width="8.00" height="18.00" fill="#aaa294" />
<polygon points="361.9,546.6 368.0,546.2 384.0,554.4 382.0,561.0 361.9,556.0" fill="#a83a38" />
<polygon points="361.9,546.6 368.0,546.2 384.0,554.4 383.4,556.0 361.9,549.6" fill="#c2504a" />
<path d="M384 551.6 q8 -5.4 16.6 -1.2" fill="none" stroke="#2a2826" stroke-width="1.1"/>
<path d="M386 553.6 q7 -3.4 15 0.4" fill="none" stroke="#3a3632" stroke-width="0.8"/>
<rect x="379.60" y="555.60" width="23.40" height="13.20" fill="#c9b667" rx="2.4"/>
<rect x="381.40" y="556.60" width="4.00" height="11.60" fill="#d9cb86" />
<rect x="384.40" y="559.40" width="2.60" height="5.60" fill="#cfe9ee" />
<rect x="392.60" y="556.00" width="4.40" height="12.60" fill="#b2a052" />
<rect x="393.60" y="561.60" width="2.60" height="5.40" fill="#26221e" />
<rect x="399.00" y="558.60" width="4.40" height="7.00" fill="#c2b060" />
<polygon points="367.8,569.0 400.0,569.0 403.0,574.4 403.0,576.6 368.4,576.6" fill="#c9b93c" />
<rect x="385.40" y="573.60" width="16.60" height="1.40" fill="#e6e2d2" />
<rect x="361.90" y="576.60" width="42.20" height="1.40" fill="#b7b2a4" />
<ellipse cx="375.6" cy="561.6" rx="6" ry="7.6" fill="#1f1e1d"/><ellipse cx="374.4" cy="561.8" rx="4" ry="5.6" fill="#b62c3a"/><ellipse cx="373.9" cy="561.8" rx="1.5" ry="2.2" fill="#7a1c26"/>
</g>
<text x="369.7" y="588.1" class="cser" font-size="7.4" fill="#3a3a3a" textLength="29.6" lengthAdjust="spacingAndGlyphs">传送系统</text>
<polyline points="221.9,356.8 244.8,356.8 244.8,387.6" fill="none" stroke="#555" stroke-width="1.0" stroke-dasharray="3.6 2" marker-end="url(#ahg)"/>
<polyline points="304.5,355.9 264.9,355.9 264.9,381.3" fill="none" stroke="#555" stroke-width="1.0" stroke-dasharray="3.6 2" marker-end="url(#ahg)"/>
<polyline points="168.0,404.1 194.2,404.1 194.2,397.1 239.8,397.1" fill="none" stroke="#555" stroke-width="1.0" stroke-dasharray="3.6 2" marker-end="url(#ahg)"/>
<polyline points="107.0,449.5 203.2,449.5" fill="none" stroke="#555" stroke-width="1.0" stroke-dasharray="3.6 2" marker-end="url(#ahg)"/>
<polyline points="129.6,540.1 180.4,540.1 180.4,481.0" fill="none" stroke="#555" stroke-width="1.0" stroke-dasharray="3.6 2" marker-end="url(#ahg)"/>
<polyline points="354.8,464.4 354.8,478.2" fill="none" stroke="#555" stroke-width="1.0" stroke-dasharray="3.6 2" marker-end="url(#ahg)"/>
<polyline points="358.3,565.7 307.5,565.7 307.5,541.6" fill="none" stroke="#555" stroke-width="1.0" stroke-dasharray="3.6 2" marker-end="url(#ahg)"/>
<defs><marker id="ah" viewBox="0 0 10 10" refX="9.5" refY="5" markerWidth="5" markerHeight="5" markerUnits="userSpaceOnUse" orient="auto"><path d="M0 0.8 L10 5 L0 9.2 z" fill="#000"/></marker></defs>
<rect x="461.40" y="346.70" width="107.80" height="227.00" fill="none" stroke="#4d4d4d" stroke-width="1.4" stroke-dasharray="7 3"/>
<rect x="574.80" y="346.70" width="220.20" height="227.00" fill="none" stroke="#4d4d4d" stroke-width="1.4" stroke-dasharray="7 3"/>
<rect x="800.20" y="346.70" width="302.70" height="227.00" fill="none" stroke="#4d4d4d" stroke-width="1.4" stroke-dasharray="7 3"/>
<rect x="1109.00" y="346.70" width="149.80" height="227.00" fill="none" stroke="#4d4d4d" stroke-width="1.4" stroke-dasharray="7 3"/>
<text x="471.5" y="366.0" class="ser" font-size="12.6" fill="#111" text-anchor="start">Input</text>
<text x="583.6" y="366.0" class="ser" font-size="12.8" fill="#111" text-anchor="start">Backbone</text>
<text x="810.4" y="366.2" class="ser" font-size="12.7" fill="#111" text-anchor="start">Neck</text>
<text x="1120.9" y="365.6" class="ser" font-size="12.7" fill="#111" text-anchor="start">Prediction</text>
<defs>
<linearGradient id="oimg" x1="0" y1="0" x2="1" y2="0"><stop offset="0" stop-color="#8e9192"/><stop offset="0.3" stop-color="#a3a4a3"/><stop offset="0.5" stop-color="#b4b2af"/><stop offset="0.78" stop-color="#c9c5c0"/><stop offset="0.815" stop-color="#c2bfba"/><stop offset="0.825" stop-color="#9fb4af"/><stop offset="0.935" stop-color="#a4b8b3"/><stop offset="0.945" stop-color="#5e4c4a"/><stop offset="0.958" stop-color="#e8786c"/><stop offset="1" stop-color="#ee8278"/></linearGradient>
<linearGradient id="iimg" x1="0" y1="0" x2="1" y2="0"><stop offset="0" stop-color="#8a8c8e"/><stop offset="0.4" stop-color="#a4a5a5"/><stop offset="0.72" stop-color="#bdbab6"/><stop offset="0.78" stop-color="#9fb2ae"/><stop offset="0.92" stop-color="#a2b5b1"/><stop offset="0.935" stop-color="#5e4c4a"/><stop offset="0.95" stop-color="#e8786c"/><stop offset="1" stop-color="#ee8278"/></linearGradient>
<clipPath id="cpo"><polygon points="469.1,440.7 555.5,356.3 555.5,452.1 469.1,536.5"/></clipPath>
<clipPath id="cpi"><polygon points="518.1,447.8 566,399.6 566,456.6 518.1,504.4"/></clipPath>
</defs>
<g clip-path="url(#cpo)" filter="url(#fine)">
<polygon points="469.1,440.7 555.5,356.3 555.5,452.1 469.1,536.5" fill="url(#oimg)" />
<polygon points="492.0,430.8 530.0,393.7 530.0,450.2 492.0,487.3" fill="none" stroke="#6d7074" stroke-width="0.9" />
<polyline points="476.0,435.9 476.0,527.8" fill="none" stroke="#7b7e82" stroke-width="1.2" opacity="0.55"/>
<polyline points="484.0,428.1 484.0,520.0" fill="none" stroke="#7b7e82" stroke-width="1.2" opacity="0.55"/>
<polyline points="500.0,412.4 500.0,504.4" fill="none" stroke="#7b7e82" stroke-width="1.2" opacity="0.55"/>
<polyline points="512.0,400.7 512.0,492.7" fill="none" stroke="#7b7e82" stroke-width="1.2" opacity="0.55"/>
<polyline points="521.0,391.9 521.0,483.9" fill="none" stroke="#7b7e82" stroke-width="1.2" opacity="0.55"/>
<polyline points="538.0,375.3 538.0,467.3" fill="none" stroke="#7b7e82" stroke-width="1.2" opacity="0.55"/>
<polyline points="500.0,420.1 536.0,384.9" fill="none" stroke="#5f6670" stroke-width="1.1" opacity="0.6"/>
<polyline points="500.0,429.7 536.0,394.5" fill="none" stroke="#5f6670" stroke-width="1.1" opacity="0.6"/>
<polyline points="500.0,441.2 536.0,406.0" fill="none" stroke="#5f6670" stroke-width="1.1" opacity="0.6"/>
</g>
<polygon points="469.1,440.7 555.5,356.3 555.5,452.1 469.1,536.5" fill="none" stroke="#6b6b6b" stroke-width="0.5" />
<polygon points="518.1,438.4 566.0,390.2 566.0,466.4 518.1,514.4" fill="#000" />
<g clip-path="url(#cpi)" filter="url(#fine)">
<polygon points="518.1,447.8 566.0,399.6 566.0,456.6 518.1,504.4" fill="url(#iimg)" />
<polygon points="531.0,442.0 553.0,419.7 553.0,454.7 531.0,477.0" fill="none" stroke="#6d7074" stroke-width="0.8" />
<polyline points="523.0,444.6 523.0,497.8" fill="none" stroke="#7b7e82" stroke-width="1.0" opacity="0.55"/>
<polyline points="528.0,439.5 528.0,492.8" fill="none" stroke="#7b7e82" stroke-width="1.0" opacity="0.55"/>
<polyline points="537.0,430.4 537.0,483.7" fill="none" stroke="#7b7e82" stroke-width="1.0" opacity="0.55"/>
<polyline points="543.0,424.3 543.0,477.6" fill="none" stroke="#7b7e82" stroke-width="1.0" opacity="0.55"/>
<polyline points="548.0,419.2 548.0,472.5" fill="none" stroke="#7b7e82" stroke-width="1.0" opacity="0.55"/>
<polyline points="557.0,410.1 557.0,463.4" fill="none" stroke="#7b7e82" stroke-width="1.0" opacity="0.55"/>
</g>
<text x="541.3" y="523.2" class="ser" font-size="8.5" fill="#111" text-anchor="middle">Input image</text>
<text x="495.0" y="547.1" class="ser" font-size="8.6" fill="#111" text-anchor="middle">Original image</text>
<polyline points="569.5,451.7 578.4,451.7" fill="none" stroke="#000" stroke-width="0.9" marker-end="url(#ah)"/>
<polyline points="640.0,451.7 658.4,451.7" fill="none" stroke="#000" stroke-width="0.9" marker-end="url(#ah)"/>
<polyline points="654.8,451.7 654.8,507.9 942.6,507.9 942.6,445.6 1010.8,445.6" fill="none" stroke="#000" stroke-width="0.9" marker-end="url(#ah)"/>
<polyline points="700.0,451.7 715.2,451.7" fill="none" stroke="#000" stroke-width="0.9" marker-end="url(#ah)"/>
<polyline points="708.4,451.7 708.4,420.3 878.2,420.3" fill="none" stroke="#000" stroke-width="0.9" marker-end="url(#ah)"/>
<polyline points="790.0,451.7 802.3,451.7" fill="none" stroke="#000" stroke-width="0.9" marker-end="url(#ah)"/>
<polyline points="865.0,451.7 876.8,451.7" fill="none" stroke="#000" stroke-width="0.9" marker-end="url(#ah)"/>
<polyline points="871.0,451.7 871.0,556.1 1010.8,556.1" fill="none" stroke="#000" stroke-width="0.9" marker-end="url(#ah)"/>
<polyline points="899.2,443.3 899.2,429.0" fill="none" stroke="#000" stroke-width="0.9" marker-end="url(#ah)"/>
<polyline points="921.2,420.6 933.6,420.6" fill="none" stroke="#000" stroke-width="0.9" marker-end="url(#ah)"/>
<polyline points="966.0,420.6 976.9,420.6" fill="none" stroke="#000" stroke-width="0.9" marker-end="url(#ah)"/>
<polyline points="971.3,420.6 971.3,502.5 1010.8,502.5" fill="none" stroke="#000" stroke-width="0.9" marker-end="url(#ah)"/>
<polyline points="1020.5,420.6 1032.3,420.6 1032.3,437.4" fill="none" stroke="#000" stroke-width="0.9" marker-end="url(#ah)"/>
<polyline points="1053.8,445.6 1063.2,445.6" fill="none" stroke="#000" stroke-width="0.9" marker-end="url(#ah)"/>
<polyline points="1079.0,445.2 1121.2,445.2" fill="none" stroke="#000" stroke-width="0.9" marker-end="url(#ah)"/>
<polyline points="1094.7,445.2 1094.7,463.3 989.6,463.3 989.6,473.4" fill="none" stroke="#000" stroke-width="0.9" marker-end="url(#ah)"/>
<polyline points="996.9,484.8 1030.2,484.8 1030.2,491.9" fill="none" stroke="#000" stroke-width="0.9" marker-end="url(#ah)"/>
<polyline points="1053.8,500.3 1063.2,500.3" fill="none" stroke="#6fa8dc" stroke-width="1.0" />
<polyline points="1086.0,500.2 1121.2,500.2" fill="none" stroke="#000" stroke-width="0.9" marker-end="url(#ah)"/>
<polyline points="1095.6,500.2 1095.6,521.6 990.4,521.6 990.4,531.0" fill="none" stroke="#000" stroke-width="0.9" marker-end="url(#ah)"/>
<polyline points="1003.0,538.4 1033.1,538.4 1033.1,546.3" fill="none" stroke="#000" stroke-width="0.9" marker-end="url(#ah)"/>
<polyline points="1053.8,556.6 1062.6,556.6" fill="none" stroke="#000" stroke-width="0.9" marker-end="url(#ah)"/>
<polyline points="1098.0,556.8 1120.4,556.8" fill="none" stroke="#000" stroke-width="0.9" marker-end="url(#ah)"/>
<polyline points="1134.6,444.9 1160.4,444.9 1160.4,468.4 1170.9,468.4" fill="none" stroke="#000" stroke-width="0.9" marker-end="url(#ah)"/>
<polyline points="1133.5,499.8 1170.9,499.8" fill="none" stroke="#000" stroke-width="0.9" marker-end="url(#ah)"/>
<polyline points="1130.5,556.6 1163.6,556.6 1163.6,527.3 1170.9,527.3" fill="none" stroke="#000" stroke-width="0.9" marker-end="url(#ah)"/>
<polygon points="578.4,433.4 611.3,399.9 615.1,399.9 582.2,433.4" fill="#bdd7ee" stroke="#3a80cc" stroke-width="1.05" stroke-linejoin="round"/>
<polygon points="582.2,433.4 615.1,399.9 615.1,453.3 582.2,486.8" fill="#7f9fc3" stroke="#3a80cc" stroke-width="1.05" stroke-linejoin="round"/>
<rect x="578.40" y="433.40" width="3.80" height="53.40" fill="#9dc3e6" stroke="#3a80cc" stroke-width="1.05" stroke-linejoin="round"/>
<polygon points="588.7,439.4 602.9,425.4 608.4,425.4 594.2,439.4" fill="#c0dfa9" stroke="#60a040" stroke-width="1.05" stroke-linejoin="round"/>
<polygon points="594.2,439.4 608.4,425.4 608.4,463.0 594.2,477.0" fill="#86b06b" stroke="#60a040" stroke-width="1.05" stroke-linejoin="round"/>
<rect x="588.70" y="439.40" width="5.50" height="37.60" fill="#a9d18e" stroke="#60a040" stroke-width="1.05" stroke-linejoin="round"/>
<polygon points="599.9,439.4 614.2,425.2 619.8,425.2 605.5,439.4" fill="#f8c9a8" stroke="#e8742a" stroke-width="1.05" stroke-linejoin="round"/>
<polygon points="605.5,439.4 619.8,425.2 619.8,463.2 605.5,477.4" fill="#d99a6e" stroke="#e8742a" stroke-width="1.05" stroke-linejoin="round"/>
<rect x="599.90" y="439.40" width="5.60" height="38.00" fill="#f4b183" stroke="#e8742a" stroke-width="1.05" stroke-linejoin="round"/>
<polygon points="610.3,446.0 618.1,438.2 630.6,438.2 622.8,446.0" fill="#c0dfa9" stroke="#60a040" stroke-width="1.05" stroke-linejoin="round"/>
<polygon points="622.8,446.0 630.6,438.2 630.6,459.4 622.8,467.2" fill="#86b06b" stroke="#60a040" stroke-width="1.05" stroke-linejoin="round"/>
<rect x="610.30" y="446.00" width="12.50" height="21.20" fill="#a9d18e" stroke="#60a040" stroke-width="1.05" stroke-linejoin="round"/>
<polygon points="627.6,446.0 635.2,438.2 647.0,438.2 639.4,446.0" fill="#f8c9a8" stroke="#e8742a" stroke-width="1.05" stroke-linejoin="round"/>
<polygon points="639.4,446.0 647.0,438.2 647.0,459.4 639.4,467.2" fill="#d99a6e" stroke="#e8742a" stroke-width="1.05" stroke-linejoin="round"/>
<rect x="627.60" y="446.00" width="11.80" height="21.20" fill="#f4b183" stroke="#e8742a" stroke-width="1.05" stroke-linejoin="round"/>
<polygon points="658.4,447.8 663.3,442.6 681.9,442.6 677.0,447.8" fill="#c0dfa9" stroke="#60a040" stroke-width="1.05" stroke-linejoin="round"/>
<polygon points="677.0,447.8 681.9,442.6 681.9,455.0 677.0,460.2" fill="#86b06b" stroke="#60a040" stroke-width="1.05" stroke-linejoin="round"/>
<rect x="658.40" y="447.80" width="18.60" height="12.40" fill="#a9d18e" stroke="#60a040" stroke-width="1.05" stroke-linejoin="round"/>
<polygon points="679.4,447.8 684.3,442.6 703.5,442.6 698.6,447.8" fill="#f8c9a8" stroke="#e8742a" stroke-width="1.05" stroke-linejoin="round"/>
<polygon points="698.6,447.8 703.5,442.6 703.5,455.0 698.6,460.2" fill="#d99a6e" stroke="#e8742a" stroke-width="1.05" stroke-linejoin="round"/>
<rect x="679.40" y="447.80" width="19.20" height="12.40" fill="#f4b183" stroke="#e8742a" stroke-width="1.05" stroke-linejoin="round"/>
<polygon points="715.2,447.8 719.3,443.6 754.9,443.6 750.8,447.8" fill="#c0dfa9" stroke="#60a040" stroke-width="1.05" stroke-linejoin="round"/>
<polygon points="750.8,447.8 754.9,443.6 754.9,455.1 750.8,459.3" fill="#86b06b" stroke="#60a040" stroke-width="1.05" stroke-linejoin="round"/>
<rect x="715.20" y="447.80" width="35.60" height="11.50" fill="#a9d18e" stroke="#60a040" stroke-width="1.05" stroke-linejoin="round"/>
<polygon points="754.2,447.8 758.3,443.6 793.8,443.6 789.7,447.8" fill="#d3def2" stroke="#8faadc" stroke-width="1.05" stroke-linejoin="round"/>
<polygon points="789.7,447.8 793.8,443.6 793.8,455.4 789.7,459.6" fill="#94a9d6" stroke="#8faadc" stroke-width="1.05" stroke-linejoin="round"/>
<rect x="754.20" y="447.80" width="35.50" height="11.80" fill="#b4c7e7" stroke="#8faadc" stroke-width="1.05" stroke-linejoin="round"/>
<polygon points="802.3,447.8 807.1,443.2 841.5,443.2 836.7,447.8" fill="#bdd7ee" stroke="#3a80cc" stroke-width="1.05" stroke-linejoin="round"/>
<polygon points="836.7,447.8 841.5,443.2 841.5,454.7 836.7,459.3" fill="#7f9fc3" stroke="#3a80cc" stroke-width="1.05" stroke-linejoin="round"/>
<rect x="802.30" y="447.80" width="34.40" height="11.50" fill="#9dc3e6" stroke="#3a80cc" stroke-width="1.05" stroke-linejoin="round"/>
<polygon points="841.3,447.8 845.9,443.2 867.7,443.2 863.1,447.8" fill="#c0dfa9" stroke="#60a040" stroke-width="1.05" stroke-linejoin="round"/>
<polygon points="863.1,447.8 867.7,443.2 867.7,454.3 863.1,458.9" fill="#86b06b" stroke="#60a040" stroke-width="1.05" stroke-linejoin="round"/>
<rect x="841.30" y="447.80" width="21.80" height="11.10" fill="#a9d18e" stroke="#60a040" stroke-width="1.05" stroke-linejoin="round"/>
<polygon points="933.6,416.2 938.0,411.8 950.7,411.8 946.3,416.2" fill="#bdd7ee" stroke="#3a80cc" stroke-width="1.05" stroke-linejoin="round"/>
<polygon points="946.3,416.2 950.7,411.8 950.7,425.0 946.3,429.4" fill="#7f9fc3" stroke="#3a80cc" stroke-width="1.05" stroke-linejoin="round"/>
<rect x="933.60" y="416.20" width="12.70" height="13.20" fill="#9dc3e6" stroke="#3a80cc" stroke-width="1.05" stroke-linejoin="round"/>
<polygon points="950.4,416.2 954.8,411.8 968.1,411.8 963.7,416.2" fill="#c0dfa9" stroke="#60a040" stroke-width="1.05" stroke-linejoin="round"/>
<polygon points="963.7,416.2 968.1,411.8 968.1,425.0 963.7,429.4" fill="#86b06b" stroke="#60a040" stroke-width="1.05" stroke-linejoin="round"/>
<rect x="950.40" y="416.20" width="13.30" height="13.20" fill="#a9d18e" stroke="#60a040" stroke-width="1.05" stroke-linejoin="round"/>
<polygon points="1063.2,436.8 1069.1,429.4 1082.3,429.4 1076.4,436.8" fill="#f8c9a8" stroke="#e8742a" stroke-width="1.05" stroke-linejoin="round"/>
<polygon points="1076.4,436.8 1082.3,429.4 1082.3,450.9 1076.4,458.3" fill="#d99a6e" stroke="#e8742a" stroke-width="1.05" stroke-linejoin="round"/>
<rect x="1063.20" y="436.80" width="13.20" height="21.50" fill="#f4b183" stroke="#e8742a" stroke-width="1.05" stroke-linejoin="round"/>
<polygon points="979.3,478.0 983.7,473.6 996.9,473.6 992.5,478.0" fill="#c0dfa9" stroke="#60a040" stroke-width="1.05" stroke-linejoin="round"/>
<polygon points="992.5,478.0 996.9,473.6 996.9,495.7 992.5,500.1" fill="#86b06b" stroke="#60a040" stroke-width="1.05" stroke-linejoin="round"/>
<rect x="979.30" y="478.00" width="13.20" height="22.10" fill="#a9d18e" stroke="#60a040" stroke-width="1.05" stroke-linejoin="round"/>
<polygon points="1063.2,498.6 1071.2,490.4 1088.9,490.4 1080.9,498.6" fill="#f8c9a8" stroke="#e8742a" stroke-width="1.05" stroke-linejoin="round"/>
<polygon points="1080.9,498.6 1088.9,490.4 1088.9,502.2 1080.9,510.4" fill="#d99a6e" stroke="#e8742a" stroke-width="1.05" stroke-linejoin="round"/>
<rect x="1063.20" y="498.60" width="17.70" height="11.80" fill="#f4b183" stroke="#e8742a" stroke-width="1.05" stroke-linejoin="round"/>
<polygon points="973.4,536.0 978.4,531.0 1003.4,531.0 998.4,536.0" fill="#c0dfa9" stroke="#60a040" stroke-width="1.05" stroke-linejoin="round"/>
<polygon points="998.4,536.0 1003.4,531.0 1003.4,545.8 998.4,550.8" fill="#86b06b" stroke="#60a040" stroke-width="1.05" stroke-linejoin="round"/>
<rect x="973.40" y="536.00" width="25.00" height="14.80" fill="#a9d18e" stroke="#60a040" stroke-width="1.05" stroke-linejoin="round"/>
<polygon points="1062.6,555.2 1067.6,549.3 1098.5,549.3 1093.5,555.2" fill="#f8c9a8" stroke="#e8742a" stroke-width="1.05" stroke-linejoin="round"/>
<polygon points="1093.5,555.2 1098.5,549.3 1098.5,558.1 1093.5,564.0" fill="#d99a6e" stroke="#e8742a" stroke-width="1.05" stroke-linejoin="round"/>
<rect x="1062.60" y="555.20" width="30.90" height="8.80" fill="#f4b183" stroke="#e8742a" stroke-width="1.05" stroke-linejoin="round"/>
<polygon points="1121.2,438.3 1129.1,429.2 1134.8,429.2 1126.9,438.3" fill="#a3b1c6" stroke="#e8742a" stroke-width="1.05" stroke-linejoin="round"/>
<polygon points="1126.9,438.3 1134.8,429.2 1134.8,450.2 1126.9,459.3" fill="#6e7f98" stroke="#e8742a" stroke-width="1.05" stroke-linejoin="round"/>
<rect x="1121.20" y="438.30" width="5.70" height="21.00" fill="#8497b0" stroke="#e8742a" stroke-width="1.05" stroke-linejoin="round"/>
<polygon points="1121.2,497.2 1128.5,490.0 1134.2,490.0 1126.9,497.2" fill="#a3b1c6" stroke="#e8742a" stroke-width="1.05" stroke-linejoin="round"/>
<polygon points="1126.9,497.2 1134.2,490.0 1134.2,503.1 1126.9,510.3" fill="#6e7f98" stroke="#e8742a" stroke-width="1.05" stroke-linejoin="round"/>
<rect x="1121.20" y="497.20" width="5.70" height="13.10" fill="#8497b0" stroke="#e8742a" stroke-width="1.05" stroke-linejoin="round"/>
<polygon points="1120.4,553.0 1125.6,548.2 1130.8,548.2 1125.6,553.0" fill="#a3b1c6" stroke="#e8742a" stroke-width="1.05" stroke-linejoin="round"/>
<polygon points="1125.6,553.0 1130.8,548.2 1130.8,558.6 1125.6,563.4" fill="#6e7f98" stroke="#e8742a" stroke-width="1.05" stroke-linejoin="round"/>
<rect x="1120.40" y="553.00" width="5.20" height="10.40" fill="#8497b0" stroke="#e8742a" stroke-width="1.05" stroke-linejoin="round"/>
<rect x="878.30" y="412.50" width="42.90" height="16.40" fill="#ed7d31" stroke="#1a1a1a" stroke-width="0.9" />
<text x="899.8" y="424.3" class="mono" font-size="8" fill="#33231a" text-anchor="middle" textLength="25.4" lengthAdjust="spacingAndGlyphs">Concat</text>
<rect x="1010.80" y="437.40" width="43.00" height="16.30" fill="#ed7d31" stroke="#1a1a1a" stroke-width="0.9" />
<text x="1032.3" y="449.1" class="mono" font-size="8" fill="#33231a" text-anchor="middle" textLength="25.4" lengthAdjust="spacingAndGlyphs">Concat</text>
<rect x="1010.80" y="491.90" width="43.00" height="16.30" fill="#ed7d31" stroke="#1a1a1a" stroke-width="0.9" />
<text x="1032.3" y="503.6" class="mono" font-size="8" fill="#33231a" text-anchor="middle" textLength="25.4" lengthAdjust="spacingAndGlyphs">Concat</text>
<rect x="1010.80" y="546.30" width="43.00" height="16.30" fill="#ed7d31" stroke="#1a1a1a" stroke-width="0.9" />
<text x="1032.3" y="558.0" class="mono" font-size="8" fill="#33231a" text-anchor="middle" textLength="25.4" lengthAdjust="spacingAndGlyphs">Concat</text>
<rect x="876.80" y="443.30" width="43.60" height="15.80" fill="#ffe699" stroke="#e6b422" stroke-width="0.9" />
<text x="886.3" y="454.9" class="cser" font-size="8.2" fill="#5e4e22" textLength="24.6" lengthAdjust="spacingAndGlyphs">上采样</text>
<rect x="976.90" y="412.50" width="43.60" height="15.80" fill="#ffe699" stroke="#e6b422" stroke-width="0.9" />
<text x="986.4" y="424.1" class="cser" font-size="8.2" fill="#5e4e22" textLength="24.6" lengthAdjust="spacingAndGlyphs">上采样</text>
<g aria-label="640×640×3"><text x="517.00" y="533.3" class="ser" font-size="8.2" fill="#111">640</text><path d="M530.98 527.90L536.77 533.70M530.98 533.70L536.77 527.90" stroke="#222" stroke-width="0.55" fill="none"/><text x="538.45" y="533.3" class="ser" font-size="8.2" fill="#111">640</text><path d="M552.42 527.90L558.22 533.70M552.42 533.70L558.22 527.90" stroke="#222" stroke-width="0.55" fill="none"/><text x="559.90" y="533.3" class="ser" font-size="8.2" fill="#111">3</text></g>
<g aria-label="5472×3648×3"><text x="467.20" y="557.4" class="ser" font-size="8.2" fill="#111">5472</text><path d="M485.43 552.00L491.22 557.80M485.43 557.80L491.22 552.00" stroke="#222" stroke-width="0.55" fill="none"/><text x="493.05" y="557.4" class="ser" font-size="8.2" fill="#111">3648</text><path d="M511.27 552.00L517.07 557.80M511.27 557.80L517.07 552.00" stroke="#222" stroke-width="0.55" fill="none"/><text x="518.90" y="557.4" class="ser" font-size="8.2" fill="#111">3</text></g>
<g aria-label="320×320×32"><text x="609.80" y="396.3" class="ser" font-size="8.0" fill="#111">320</text><path d="M623.65 390.90L629.45 396.70M623.65 396.70L629.45 390.90" stroke="#222" stroke-width="0.55" fill="none"/><text x="631.30" y="396.3" class="ser" font-size="8.0" fill="#111">320</text><path d="M645.15 390.90L650.95 396.70M645.15 396.70L650.95 390.90" stroke="#222" stroke-width="0.55" fill="none"/><text x="652.80" y="396.3" class="ser" font-size="8.0" fill="#111">32</text></g>
<g aria-label="160×160×64"><text x="619.10" y="420.4" class="ser" font-size="8.0" fill="#111">160</text><path d="M632.95 415.00L638.75 420.80M632.95 420.80L638.75 415.00" stroke="#222" stroke-width="0.55" fill="none"/><text x="640.60" y="420.4" class="ser" font-size="8.0" fill="#111">160</text><path d="M654.45 415.00L660.25 420.80M654.45 420.80L660.25 415.00" stroke="#222" stroke-width="0.55" fill="none"/><text x="662.10" y="420.4" class="ser" font-size="8.0" fill="#111">64</text></g>
<g aria-label="80×80×128"><text x="628.30" y="431.8" class="ser" font-size="8.0" fill="#111">80</text><path d="M638.07 426.40L643.87 432.20M638.07 432.20L643.87 426.40" stroke="#222" stroke-width="0.55" fill="none"/><text x="645.65" y="431.8" class="ser" font-size="8.0" fill="#111">80</text><path d="M655.43 426.40L661.23 432.20M655.43 432.20L661.23 426.40" stroke="#222" stroke-width="0.55" fill="none"/><text x="663.00" y="431.8" class="ser" font-size="8.0" fill="#111">128</text></g>
<g aria-label="40×40×256"><text x="659.90" y="439.6" class="ser" font-size="8.0" fill="#111">40</text><path d="M669.65 434.20L675.45 440.00M669.65 440.00L675.45 434.20" stroke="#222" stroke-width="0.55" fill="none"/><text x="677.20" y="439.6" class="ser" font-size="8.0" fill="#111">40</text><path d="M686.95 434.20L692.75 440.00M686.95 440.00L692.75 434.20" stroke="#222" stroke-width="0.55" fill="none"/><text x="694.50" y="439.6" class="ser" font-size="8.0" fill="#111">256</text></g>
<g aria-label="20×20×512"><text x="736.50" y="439.0" class="ser" font-size="8.0" fill="#111">20</text><path d="M746.48 433.60L752.27 439.40M746.48 439.40L752.27 433.60" stroke="#222" stroke-width="0.55" fill="none"/><text x="754.25" y="439.0" class="ser" font-size="8.0" fill="#111">20</text><path d="M764.23 433.60L770.02 439.40M764.23 439.40L770.02 433.60" stroke="#222" stroke-width="0.55" fill="none"/><text x="772.00" y="439.0" class="ser" font-size="8.0" fill="#111">512</text></g>
<g aria-label="20×20×256"><text x="834.40" y="439.0" class="ser" font-size="8.0" fill="#111">20</text><path d="M844.38 433.60L850.17 439.40M844.38 439.40L850.17 433.60" stroke="#222" stroke-width="0.55" fill="none"/><text x="852.15" y="439.0" class="ser" font-size="8.0" fill="#111">20</text><path d="M862.12 433.60L867.92 439.40M862.12 439.40L867.92 433.60" stroke="#222" stroke-width="0.55" fill="none"/><text x="869.90" y="439.0" class="ser" font-size="8.0" fill="#111">256</text></g>
<g aria-label="80×80×128"><text x="1046.10" y="424.8" class="ser" font-size="8.0" fill="#111">80</text><path d="M1056.05 419.40L1061.85 425.20M1056.05 425.20L1061.85 419.40" stroke="#222" stroke-width="0.55" fill="none"/><text x="1063.80" y="424.8" class="ser" font-size="8.0" fill="#111">80</text><path d="M1073.75 419.40L1079.55 425.20M1073.75 425.20L1079.55 419.40" stroke="#222" stroke-width="0.55" fill="none"/><text x="1081.50" y="424.8" class="ser" font-size="8.0" fill="#111">128</text></g>
<g aria-label="40×40×256"><text x="1047.00" y="483.1" class="ser" font-size="8.0" fill="#111">40</text><path d="M1056.88 477.70L1062.68 483.50M1056.88 483.50L1062.68 477.70" stroke="#222" stroke-width="0.55" fill="none"/><text x="1064.55" y="483.1" class="ser" font-size="8.0" fill="#111">40</text><path d="M1074.42 477.70L1080.22 483.50M1074.42 483.50L1080.22 477.70" stroke="#222" stroke-width="0.55" fill="none"/><text x="1082.10" y="483.1" class="ser" font-size="8.0" fill="#111">256</text></g>
<g aria-label="20×20×512"><text x="1050.50" y="543.2" class="ser" font-size="8.0" fill="#111">20</text><path d="M1060.45 537.80L1066.25 543.60M1060.45 543.60L1066.25 537.80" stroke="#222" stroke-width="0.55" fill="none"/><text x="1068.20" y="543.2" class="ser" font-size="8.0" fill="#111">20</text><path d="M1078.15 537.80L1083.95 543.60M1078.15 543.60L1083.95 537.80" stroke="#222" stroke-width="0.55" fill="none"/><text x="1085.90" y="543.2" class="ser" font-size="8.0" fill="#111">512</text></g>
<g aria-label="80×80×36"><text x="1110.30" y="425.2" class="ser" font-size="8.0" fill="#111">80</text><path d="M1120.17 419.80L1125.98 425.60M1120.17 425.60L1125.98 419.80" stroke="#222" stroke-width="0.55" fill="none"/><text x="1127.85" y="425.2" class="ser" font-size="8.0" fill="#111">80</text><path d="M1137.72 419.80L1143.53 425.60M1137.72 425.60L1143.53 419.80" stroke="#222" stroke-width="0.55" fill="none"/><text x="1145.40" y="425.2" class="ser" font-size="8.0" fill="#111">36</text></g>
<g aria-label="40×40×36"><text x="1115.40" y="483.7" class="ser" font-size="8.0" fill="#111">40</text><path d="M1125.10 478.30L1130.90 484.10M1125.10 484.10L1130.90 478.30" stroke="#222" stroke-width="0.55" fill="none"/><text x="1132.60" y="483.7" class="ser" font-size="8.0" fill="#111">40</text><path d="M1142.30 478.30L1148.10 484.10M1142.30 484.10L1148.10 478.30" stroke="#222" stroke-width="0.55" fill="none"/><text x="1149.80" y="483.7" class="ser" font-size="8.0" fill="#111">36</text></g>
<g aria-label="20×20×36"><text x="1115.40" y="543.1" class="ser" font-size="8.0" fill="#111">20</text><path d="M1125.10 537.70L1130.90 543.50M1125.10 543.50L1130.90 537.70" stroke="#222" stroke-width="0.55" fill="none"/><text x="1132.60" y="543.1" class="ser" font-size="8.0" fill="#111">20</text><path d="M1142.30 537.70L1148.10 543.50M1142.30 543.50L1148.10 537.70" stroke="#222" stroke-width="0.55" fill="none"/><text x="1149.80" y="543.1" class="ser" font-size="8.0" fill="#111">36</text></g>
<text x="587.7" y="498.3" class="ser" font-size="8.20" fill="#111" text-anchor="middle">Focus</text>
<text x="611.9" y="490.4" class="ser" font-size="8.39" fill="#111" text-anchor="middle">CSP1_1</text>
<text x="637.6" y="479.0" class="ser" font-size="8.29" fill="#111" text-anchor="middle">CSP1_3</text>
<text x="692.4" y="471.7" class="ser" font-size="8.39" fill="#111" text-anchor="middle">CSP1_3</text>
<text x="734.3" y="470.7" class="ser" font-size="8.81" fill="#111" text-anchor="middle">Conv</text>
<text x="771.4" y="470.7" class="ser" font-size="8.90" fill="#111" text-anchor="middle">SPP</text>
<text x="823.0" y="471.2" class="ser" font-size="8.39" fill="#111" text-anchor="middle">CSP2_1</text>
<text x="943.2" y="441.7" class="ser" font-size="8.54" fill="#111" text-anchor="middle">CSP2_1</text>
<clipPath id="cpr"><rect x="1171" y="453.6" width="83.8" height="85.7"/></clipPath><g clip-path="url(#cpr)"><g filter="url(#mott)">
<rect x="1171.00" y="453.60" width="83.80" height="85.70" fill="#cdbbb0" />
<rect x="1171.00" y="470.00" width="15.00" height="60.00" fill="#b5aca6" />
<rect x="1242.00" y="453.60" width="12.80" height="85.70" fill="#d2bdb1" />
</g><g filter="url(#fine)">
<rect x="1186.40" y="465.50" width="54.50" height="67.50" fill="#a9b0ae" />
</g>
<rect x="1184.60" y="453.60" width="2.00" height="82.00" fill="#5a7fae" opacity="0.85"/>
<rect x="1240.40" y="453.60" width="1.70" height="52.00" fill="#5a84b8" opacity="0.8"/>
<polyline points="1186.4,466.6 1241.0,466.6" fill="none" stroke="#c040c8" stroke-width="0.9" />
<polyline points="1186.4,533.4 1241.0,533.4" fill="none" stroke="#c040c8" stroke-width="0.9" />
<polyline points="1186.8,465.5 1186.8,533.0" fill="none" stroke="#5a78e0" stroke-width="0.9" />
<polyline points="1240.8,505.0 1240.8,533.0" fill="none" stroke="#7aa0e0" stroke-width="0.7" />
<rect x="1186.40" y="463.50" width="29.00" height="2.60" fill="#35d6d2" />
<polyline points="1193.0,468.0 1193.0,532.0" fill="none" stroke="#7f8c98" stroke-width="0.8" stroke-dasharray="3 2" opacity="0.75"/>
<polyline points="1205.0,468.0 1205.0,532.0" fill="none" stroke="#7f8c98" stroke-width="0.8" stroke-dasharray="3 2" opacity="0.75"/>
<polyline points="1216.5,468.0 1216.5,532.0" fill="none" stroke="#7f8c98" stroke-width="0.8" stroke-dasharray="3 2" opacity="0.75"/>
<polyline points="1231.0,468.0 1231.0,532.0" fill="none" stroke="#7f8c98" stroke-width="0.8" stroke-dasharray="3 2" opacity="0.75"/>
<rect x="1200.70" y="480.60" width="20.00" height="2.80" fill="#cde524" />
<rect x="1200.90" y="483.60" width="1.80" height="1.80" fill="#f4f4ee" />
<rect x="1228.20" y="480.60" width="20.60" height="2.80" fill="#cde524" />
<rect x="1228.40" y="483.60" width="1.80" height="1.80" fill="#f4f4ee" />
<rect x="1228.20" y="508.70" width="20.60" height="2.80" fill="#cde524" />
<rect x="1228.40" y="511.70" width="1.80" height="1.80" fill="#f4f4ee" />
<rect x="1200.70" y="511.90" width="20.00" height="2.80" fill="#cde524" />
<rect x="1200.90" y="514.90" width="1.80" height="1.80" fill="#f4f4ee" />
<rect x="1200.70" y="522.20" width="20.00" height="2.80" fill="#cde524" />
<rect x="1200.90" y="525.20" width="1.80" height="1.80" fill="#f4f4ee" />
<rect x="1181.00" y="459.00" width="4.00" height="2.20" fill="#d8d4ce" />
<rect x="1180.50" y="472.00" width="4.00" height="2.20" fill="#d8d4ce" />
<rect x="1181.00" y="527.00" width="4.00" height="2.20" fill="#d8d4ce" />
<rect x="1213.00" y="456.50" width="4.00" height="2.20" fill="#d8d4ce" />
<rect x="1236.00" y="457.50" width="4.00" height="2.20" fill="#d8d4ce" />
<rect x="1212.00" y="536.00" width="4.00" height="2.20" fill="#d8d4ce" />
<rect x="1236.00" y="525.00" width="4.00" height="2.20" fill="#d8d4ce" />
</g>
<rect x="59.00" y="0.00" width="1140.70" height="1.00" fill="#989898" />
<rect x="67.00" y="19.00" width="121.00" height="29.00" fill="#1f2181" />
<circle cx="80.3" cy="33.4" r="2" fill="#fff"/>
<text x="95.2" y="39.4" class="san" font-size="17.6" font-weight="bold" fill="#fff" textLength="17.4" lengthAdjust="spacingAndGlyphs">AI</text>
<text x="113.2" y="39.2" class="csan" font-size="16.6" font-weight="bold" fill="#fff" textLength="64.15" lengthAdjust="spacingAndGlyphs">视觉工位</text>
<rect x="766.00" y="15.00" width="105.00" height="29.00" fill="#1f2181" />
<circle cx="778.7" cy="29.6" r="2" fill="#fff"/>
<text x="793.2" y="35.8" class="csan" font-size="16.6" font-weight="bold" fill="#fff" textLength="64.45" lengthAdjust="spacingAndGlyphs">管理系统</text>
<rect x="463.00" y="577.70" width="115.60" height="28.00" fill="#1f2181" />
<circle cx="475.8" cy="591.3" r="2" fill="#fff"/>
<text x="490.8" y="597.8" class="csan" font-size="16.6" font-weight="bold" fill="#fff" textLength="65.05" lengthAdjust="spacingAndGlyphs">分析系统</text>
<rect x="0.00" y="322.80" width="38.80" height="100.60" fill="#1f2181" />
<circle cx="19.6" cy="330.9" r="2" fill="#fff"/>
<g fill="#fff" class="csan" font-size="16.6" font-weight="bold"><text x="9" y="360.51">感</text><text x="9" y="376.41">知</text><text x="9" y="392.31">系</text><text x="9" y="408.21">统</text></g>
<rect x="67.90" y="48.40" width="638.60" height="259.90" fill="none" stroke="#000" stroke-width="1.2" stroke-dasharray="4.2 2.8"/>
<rect x="766.80" y="44.60" width="490.90" height="270.80" fill="none" stroke="#000" stroke-width="1.2" stroke-dasharray="4.2 2.8"/>
<rect x="43.50" y="323.50" width="389.00" height="275.80" fill="none" stroke="#000" stroke-width="1.2" stroke-dasharray="4.2 2.8"/>
<polygon points="233.7,312.0 243.5,312.0 243.5,340.2 248.6,340.2 238.6,350.5 228.4,340.2 233.7,340.2" fill="#00b050" />
<polygon points="762.9,173.4 762.9,183.4 720.0,183.4 720.0,187.8 709.6,178.5 720.0,169.2 720.0,173.4" fill="#00b050" />
<polygon points="1005.0,339.8 1014.8,339.8 1014.8,327.5 1019.2,327.5 1010.1,318.0 1000.8,327.5 1005.0,327.5" fill="#00b050" />
<polygon points="430.2,457.1 459.8,457.1 459.8,453.5 469.1,462.2 459.8,471.0 459.8,466.9 430.2,466.9" fill="#00b050" />
</svg>
</body></html>
